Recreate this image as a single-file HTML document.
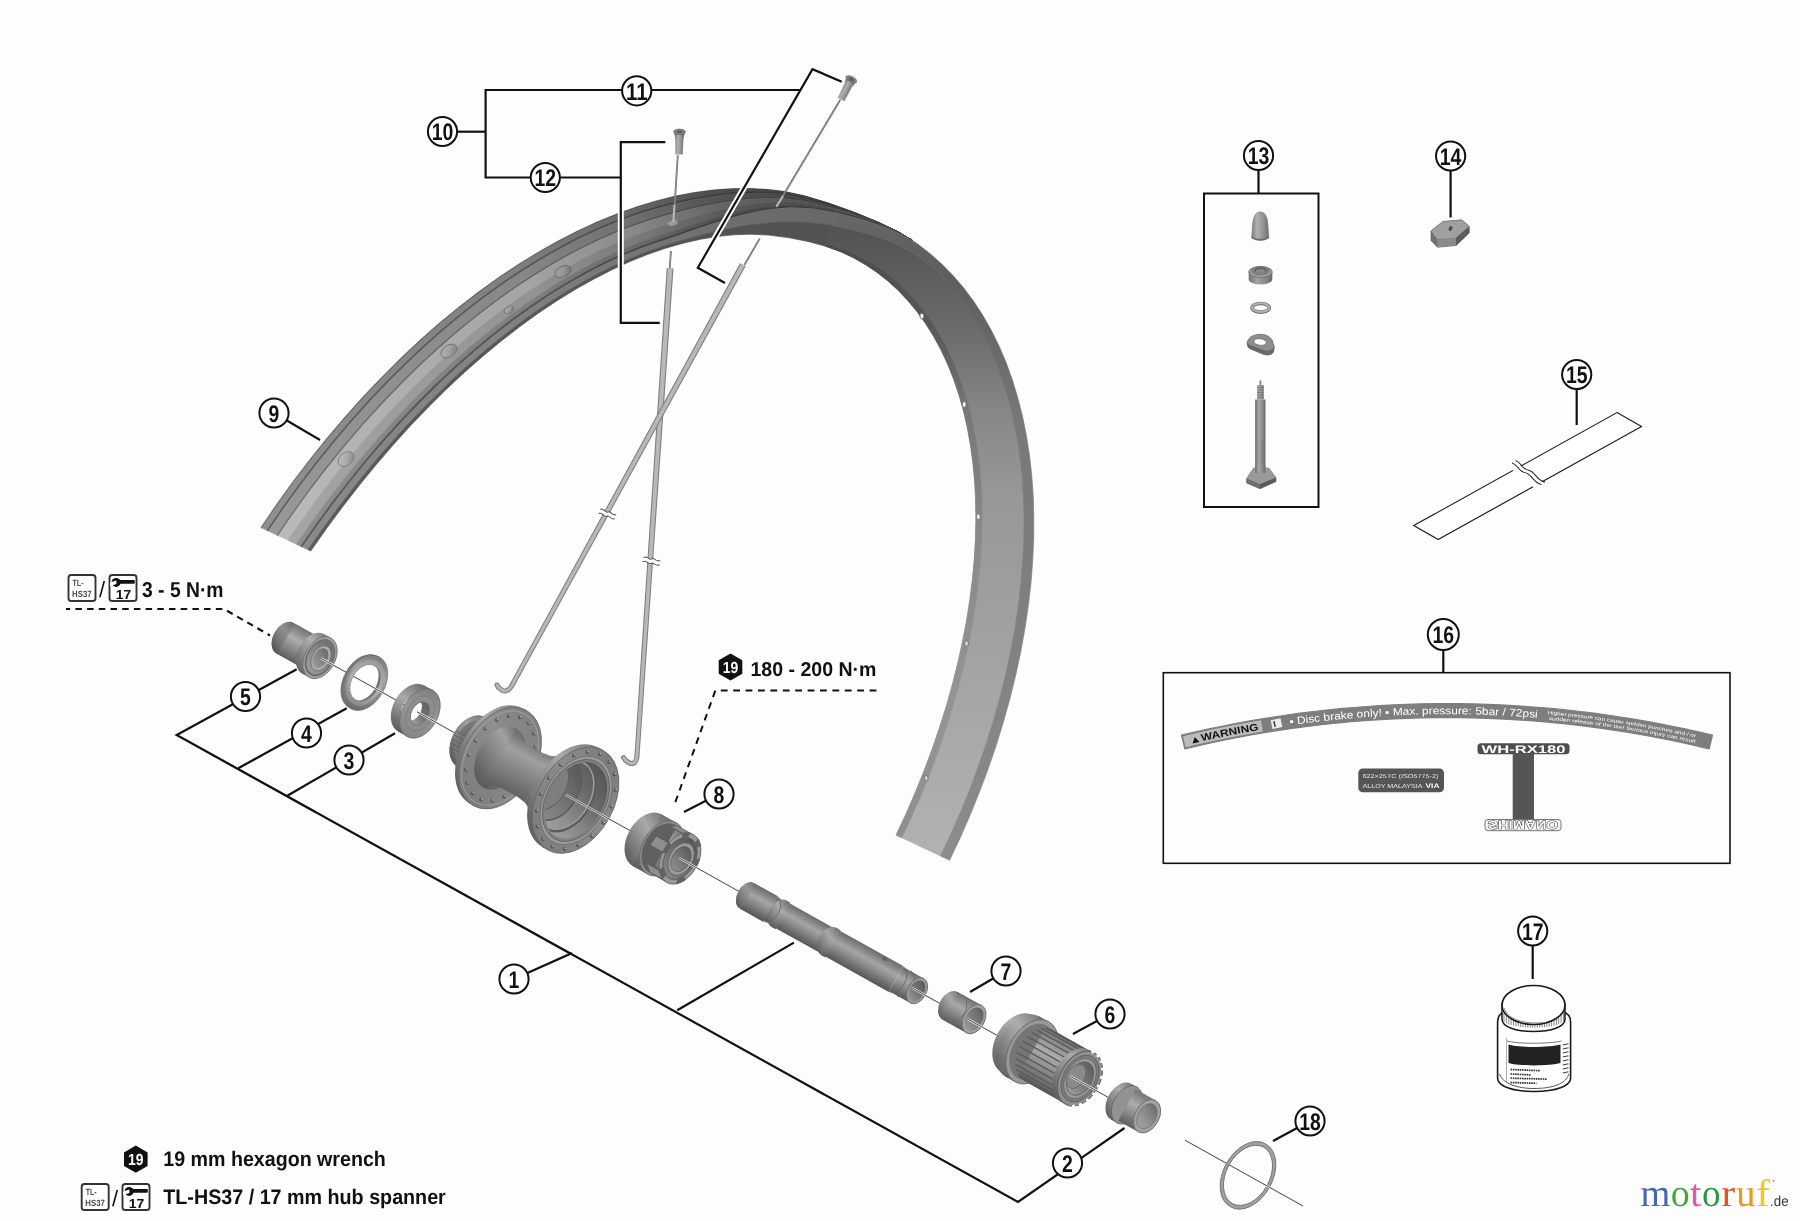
<!DOCTYPE html>
<html><head><meta charset="utf-8"><title>WH-RX180 exploded view</title>
<style>
html,body{margin:0;padding:0;background:#fff;}
body{width:1800px;height:1221px;overflow:hidden;font-family:"Liberation Sans",sans-serif;}
svg{display:block;font-family:"Liberation Sans",sans-serif;} text{text-rendering:geometricPrecision;}
</style></head><body>
<svg width="1800" height="1221" viewBox="0 0 1800 1221">
<defs>
<linearGradient id="g1" gradientUnits="userSpaceOnUse" x1="286" y1="539" x2="820" y2="200"><stop offset="0" stop-color="#6e6e6e"/><stop offset="0.28" stop-color="#676767"/><stop offset="0.54" stop-color="#616161"/><stop offset="0.73" stop-color="#505050"/><stop offset="0.855" stop-color="#3d3d3d"/><stop offset="0.97" stop-color="#333333"/><stop offset="1" stop-color="#303030"/></linearGradient>
<linearGradient id="g2" gradientUnits="userSpaceOnUse" x1="286" y1="539" x2="820" y2="200"><stop offset="0" stop-color="#909090"/><stop offset="0.28" stop-color="#878787"/><stop offset="0.54" stop-color="#7f7f7f"/><stop offset="0.73" stop-color="#696969"/><stop offset="0.855" stop-color="#4f4f4f"/><stop offset="0.97" stop-color="#424242"/><stop offset="1" stop-color="#3f3f3f"/></linearGradient>
<linearGradient id="g3" gradientUnits="userSpaceOnUse" x1="286" y1="539" x2="820" y2="200"><stop offset="0" stop-color="#5e5e5e"/><stop offset="0.28" stop-color="#585858"/><stop offset="0.54" stop-color="#535353"/><stop offset="0.73" stop-color="#454545"/><stop offset="0.855" stop-color="#343434"/><stop offset="0.97" stop-color="#2b2b2b"/><stop offset="1" stop-color="#292929"/></linearGradient>
<linearGradient id="g4" gradientUnits="userSpaceOnUse" x1="286" y1="539" x2="820" y2="200"><stop offset="0" stop-color="#989898"/><stop offset="0.28" stop-color="#8f8f8f"/><stop offset="0.54" stop-color="#878787"/><stop offset="0.73" stop-color="#6f6f6f"/><stop offset="0.855" stop-color="#545454"/><stop offset="0.97" stop-color="#464646"/><stop offset="1" stop-color="#434343"/></linearGradient>
<linearGradient id="g5" gradientUnits="userSpaceOnUse" x1="286" y1="539" x2="820" y2="200"><stop offset="0" stop-color="#707070"/><stop offset="0.28" stop-color="#696969"/><stop offset="0.54" stop-color="#636363"/><stop offset="0.73" stop-color="#525252"/><stop offset="0.855" stop-color="#3e3e3e"/><stop offset="0.97" stop-color="#343434"/><stop offset="1" stop-color="#313131"/></linearGradient>
<linearGradient id="g6" gradientUnits="userSpaceOnUse" x1="286" y1="539" x2="820" y2="200"><stop offset="0" stop-color="#bababa"/><stop offset="0.28" stop-color="#afafaf"/><stop offset="0.54" stop-color="#a5a5a5"/><stop offset="0.73" stop-color="#888888"/><stop offset="0.855" stop-color="#666666"/><stop offset="0.97" stop-color="#565656"/><stop offset="1" stop-color="#525252"/></linearGradient>
<linearGradient id="g7" gradientUnits="userSpaceOnUse" x1="286" y1="539" x2="820" y2="200"><stop offset="0" stop-color="#a6a6a6"/><stop offset="0.28" stop-color="#9c9c9c"/><stop offset="0.54" stop-color="#939393"/><stop offset="0.73" stop-color="#797979"/><stop offset="0.855" stop-color="#5b5b5b"/><stop offset="0.97" stop-color="#4c4c4c"/><stop offset="1" stop-color="#494949"/></linearGradient>
<linearGradient id="g8" gradientUnits="userSpaceOnUse" x1="286" y1="539" x2="820" y2="200"><stop offset="0" stop-color="#8e8e8e"/><stop offset="0.28" stop-color="#858585"/><stop offset="0.54" stop-color="#7e7e7e"/><stop offset="0.73" stop-color="#686868"/><stop offset="0.855" stop-color="#4e4e4e"/><stop offset="0.97" stop-color="#414141"/><stop offset="1" stop-color="#3e3e3e"/></linearGradient>
<linearGradient id="g9" gradientUnits="userSpaceOnUse" x1="286" y1="539" x2="820" y2="200"><stop offset="0" stop-color="#5c5c5c"/><stop offset="0.28" stop-color="#565656"/><stop offset="0.54" stop-color="#515151"/><stop offset="0.73" stop-color="#434343"/><stop offset="0.855" stop-color="#333333"/><stop offset="0.97" stop-color="#2a2a2a"/><stop offset="1" stop-color="#282828"/></linearGradient>
<linearGradient id="g10" gradientUnits="userSpaceOnUse" x1="339.8" y1="452.8" x2="352.2" y2="465.2"><stop offset="0" stop-color="#bcbcbc"/><stop offset="0.55" stop-color="#ababab"/><stop offset="1" stop-color="#868686"/></linearGradient>
<linearGradient id="g11" gradientUnits="userSpaceOnUse" x1="442.8" y1="345.2" x2="455.2" y2="356.8"><stop offset="0" stop-color="#b1b1b1"/><stop offset="0.55" stop-color="#a0a0a0"/><stop offset="1" stop-color="#7e7e7e"/></linearGradient>
<linearGradient id="g12" gradientUnits="userSpaceOnUse" x1="505.4" y1="306.4" x2="512.6" y2="313.2"><stop offset="0" stop-color="#ababab"/><stop offset="0.55" stop-color="#9b9b9b"/><stop offset="1" stop-color="#797979"/></linearGradient>
<linearGradient id="g13" gradientUnits="userSpaceOnUse" x1="557" y1="266.3" x2="569" y2="276.7"><stop offset="0" stop-color="#a3a3a3"/><stop offset="0.55" stop-color="#949494"/><stop offset="1" stop-color="#747474"/></linearGradient>
<linearGradient id="g14" gradientUnits="userSpaceOnUse" x1="286" y1="539" x2="820" y2="200"><stop offset="0" stop-color="#8a8a8a"/><stop offset="0.45" stop-color="#828282"/><stop offset="0.7" stop-color="#767676"/><stop offset="0.9" stop-color="#6c6c6c"/><stop offset="1" stop-color="#686868"/></linearGradient>
<linearGradient id="g15" gradientUnits="userSpaceOnUse" x1="286" y1="539" x2="820" y2="200"><stop offset="0" stop-color="#5a5a5a"/><stop offset="0.5" stop-color="#565656"/><stop offset="0.8" stop-color="#525252"/><stop offset="1" stop-color="#525252"/></linearGradient>
<linearGradient id="g16" gradientUnits="userSpaceOnUse" x1="0" y1="205" x2="0" y2="860"><stop offset="0" stop-color="#6a6a6a"/><stop offset="0.05" stop-color="#626262"/><stop offset="0.12" stop-color="#5e5e5e"/><stop offset="0.22" stop-color="#6a6a6a"/><stop offset="0.34" stop-color="#787878"/><stop offset="0.64" stop-color="#808080"/><stop offset="1" stop-color="#8c8c8c"/></linearGradient>
<linearGradient id="g17" gradientUnits="userSpaceOnUse" x1="0" y1="225" x2="0" y2="860"><stop offset="0" stop-color="#525252"/><stop offset="0.06" stop-color="#5a5a5a"/><stop offset="0.17" stop-color="#6c6c6c"/><stop offset="0.3" stop-color="#888888"/><stop offset="0.42" stop-color="#979797"/><stop offset="0.63" stop-color="#a0a0a0"/><stop offset="0.75" stop-color="#a6a6a6"/><stop offset="1" stop-color="#b2b2b2"/></linearGradient>
<linearGradient id="g18" gradientUnits="userSpaceOnUse" x1="0" y1="225" x2="0" y2="860"><stop offset="0" stop-color="#484848"/><stop offset="0.17" stop-color="#5a5a5a"/><stop offset="0.3" stop-color="#787878"/><stop offset="0.5" stop-color="#8a8a8a"/><stop offset="0.75" stop-color="#949494"/><stop offset="1" stop-color="#8e8e8e"/></linearGradient>
<linearGradient id="g19" gradientUnits="userSpaceOnUse" x1="-5" y1="0" x2="5" y2="0"><stop offset="0" stop-color="#6a6a6a"/><stop offset="0.35" stop-color="#b2b2b2"/><stop offset="0.7" stop-color="#8e8e8e"/><stop offset="1" stop-color="#5e5e5e"/></linearGradient>
<linearGradient id="g20" gradientUnits="userSpaceOnUse" x1="-5" y1="0" x2="5" y2="0"><stop offset="0" stop-color="#6a6a6a"/><stop offset="0.35" stop-color="#b2b2b2"/><stop offset="0.7" stop-color="#8e8e8e"/><stop offset="1" stop-color="#5e5e5e"/></linearGradient>
<linearGradient id="g21" gradientUnits="userSpaceOnUse" x1="307.5" y1="630.7" x2="290.5" y2="661.3"><stop offset="0" stop-color="#737373"/><stop offset="0.18" stop-color="#8f8f8f"/><stop offset="0.38" stop-color="#adadad"/><stop offset="0.6" stop-color="#939393"/><stop offset="0.85" stop-color="#717171"/><stop offset="1" stop-color="#5f5f5f"/></linearGradient>
<linearGradient id="g22" gradientUnits="userSpaceOnUse" x1="293.5" y1="622.9" x2="276.5" y2="653.5"><stop offset="0" stop-color="#656565"/><stop offset="0.18" stop-color="#7b7b7b"/><stop offset="0.38" stop-color="#8f8f8f"/><stop offset="0.6" stop-color="#7f7f7f"/><stop offset="0.85" stop-color="#636363"/><stop offset="1" stop-color="#515151"/></linearGradient>
<linearGradient id="g23" gradientUnits="userSpaceOnUse" x1="308.5" y1="631.3" x2="291.5" y2="661.8"><stop offset="0" stop-color="#737373"/><stop offset="0.18" stop-color="#8f8f8f"/><stop offset="0.38" stop-color="#adadad"/><stop offset="0.6" stop-color="#939393"/><stop offset="0.85" stop-color="#717171"/><stop offset="1" stop-color="#5f5f5f"/></linearGradient>
<linearGradient id="g24" gradientUnits="userSpaceOnUse" x1="327.5" y1="636.1" x2="305.5" y2="675.4"><stop offset="0" stop-color="#757575"/><stop offset="0.18" stop-color="#919191"/><stop offset="0.38" stop-color="#afafaf"/><stop offset="0.6" stop-color="#959595"/><stop offset="0.85" stop-color="#737373"/><stop offset="1" stop-color="#616161"/></linearGradient>
<linearGradient id="g25" gradientUnits="userSpaceOnUse" x1="328.3" y1="642.8" x2="311.7" y2="672.5"><stop offset="0" stop-color="#6c6c6c"/><stop offset="0.5" stop-color="#868686"/><stop offset="1" stop-color="#9c9c9c"/></linearGradient>
<linearGradient id="g26" gradientUnits="userSpaceOnUse" x1="324.9" y1="649" x2="315.1" y2="666.4"><stop offset="0" stop-color="#6a6a6a"/><stop offset="0.6" stop-color="#888888"/><stop offset="1" stop-color="#9a9a9a"/></linearGradient>
<linearGradient id="g27" gradientUnits="userSpaceOnUse" x1="379.4" y1="657" x2="350.6" y2="708.6"><stop offset="0" stop-color="#7a7a7a"/><stop offset="0.3" stop-color="#a2a2a2"/><stop offset="0.6" stop-color="#8c8c8c"/><stop offset="1" stop-color="#6c6c6c"/></linearGradient>
<linearGradient id="g28" gradientUnits="userSpaceOnUse" x1="376.7" y1="661.8" x2="353.3" y2="703.8"><stop offset="0" stop-color="#9a9a9a"/><stop offset="0.5" stop-color="#b0b0b0"/><stop offset="1" stop-color="#8c8c8c"/></linearGradient>
<linearGradient id="g29" gradientUnits="userSpaceOnUse" x1="427.9" y1="687.5" x2="402.1" y2="733.8"><stop offset="0" stop-color="#6f6f6f"/><stop offset="0.18" stop-color="#8b8b8b"/><stop offset="0.38" stop-color="#a9a9a9"/><stop offset="0.6" stop-color="#8f8f8f"/><stop offset="0.85" stop-color="#6d6d6d"/><stop offset="1" stop-color="#5b5b5b"/></linearGradient>
<linearGradient id="g30" gradientUnits="userSpaceOnUse" x1="425.8" y1="703" x2="414.2" y2="724"><stop offset="0" stop-color="#606060"/><stop offset="0.5" stop-color="#747474"/><stop offset="1" stop-color="#a4a4a4"/></linearGradient>
<linearGradient id="g31" gradientUnits="userSpaceOnUse" x1="432.7" y1="690.8" x2="407.3" y2="736.2"><stop offset="0" stop-color="#808080"/><stop offset="0.45" stop-color="#989898"/><stop offset="1" stop-color="#868686"/></linearGradient>
<linearGradient id="g32" gradientUnits="userSpaceOnUse" x1="496.1" y1="723.9" x2="468.9" y2="772.8"><stop offset="0" stop-color="#737373"/><stop offset="0.18" stop-color="#8f8f8f"/><stop offset="0.38" stop-color="#adadad"/><stop offset="0.6" stop-color="#939393"/><stop offset="0.85" stop-color="#717171"/><stop offset="1" stop-color="#5f5f5f"/></linearGradient>
<linearGradient id="g33" gradientUnits="userSpaceOnUse" x1="484.6" y1="717.5" x2="457.4" y2="766.4"><stop offset="0" stop-color="#6d6d6d"/><stop offset="0.18" stop-color="#878787"/><stop offset="0.38" stop-color="#9f9f9f"/><stop offset="0.6" stop-color="#8b8b8b"/><stop offset="0.85" stop-color="#6b6b6b"/><stop offset="1" stop-color="#595959"/></linearGradient>
<linearGradient id="g34" gradientUnits="userSpaceOnUse" x1="524.8" y1="709.5" x2="471.7" y2="804.7"><stop offset="0" stop-color="#6f6f6f"/><stop offset="0.18" stop-color="#8b8b8b"/><stop offset="0.38" stop-color="#a9a9a9"/><stop offset="0.6" stop-color="#8f8f8f"/><stop offset="0.85" stop-color="#6d6d6d"/><stop offset="1" stop-color="#5b5b5b"/></linearGradient>
<linearGradient id="g35" gradientUnits="userSpaceOnUse" x1="526.3" y1="710.9" x2="473.7" y2="805.3"><stop offset="0" stop-color="#7e7e7e"/><stop offset="0.4" stop-color="#8e8e8e"/><stop offset="1" stop-color="#7a7a7a"/></linearGradient>
<linearGradient id="g36" gradientUnits="userSpaceOnUse" x1="554.5" y1="742.7" x2="515.5" y2="812.6"><stop offset="0" stop-color="#5e5e5e"/><stop offset="0.12" stop-color="#707070"/><stop offset="0.32" stop-color="#a0a0a0"/><stop offset="0.5" stop-color="#8a8a8a"/><stop offset="0.75" stop-color="#6a6a6a"/><stop offset="1" stop-color="#4e4e4e"/></linearGradient>
<linearGradient id="g37" gradientUnits="userSpaceOnUse" x1="600.8" y1="749" x2="545.2" y2="848.6"><stop offset="0" stop-color="#6f6f6f"/><stop offset="0.18" stop-color="#8b8b8b"/><stop offset="0.38" stop-color="#a9a9a9"/><stop offset="0.6" stop-color="#8f8f8f"/><stop offset="0.85" stop-color="#6d6d6d"/><stop offset="1" stop-color="#5b5b5b"/></linearGradient>
<linearGradient id="g38" gradientUnits="userSpaceOnUse" x1="602.8" y1="750.2" x2="547.2" y2="849.7"><stop offset="0" stop-color="#7a7a7a"/><stop offset="0.4" stop-color="#8c8c8c"/><stop offset="1" stop-color="#7c7c7c"/></linearGradient>
<linearGradient id="g39" gradientUnits="userSpaceOnUse" x1="596" y1="764.7" x2="556" y2="836.3"><stop offset="0" stop-color="#545454"/><stop offset="0.35" stop-color="#6a6a6a"/><stop offset="0.7" stop-color="#8c8c8c"/><stop offset="1" stop-color="#a0a0a0"/></linearGradient>
<linearGradient id="g40" gradientUnits="userSpaceOnUse" x1="572.1" y1="760.5" x2="539.9" y2="818.2"><stop offset="0" stop-color="#585858"/><stop offset="0.5" stop-color="#747474"/><stop offset="1" stop-color="#8e8e8e"/></linearGradient>
<linearGradient id="g41" gradientUnits="userSpaceOnUse" x1="668.9" y1="818.5" x2="640.1" y2="870"><stop offset="0" stop-color="#6f6f6f"/><stop offset="0.18" stop-color="#8b8b8b"/><stop offset="0.38" stop-color="#a9a9a9"/><stop offset="0.6" stop-color="#8f8f8f"/><stop offset="0.85" stop-color="#6d6d6d"/><stop offset="1" stop-color="#5b5b5b"/></linearGradient>
<linearGradient id="g42" gradientUnits="userSpaceOnUse" x1="685.4" y1="830" x2="658.6" y2="878.1"><stop offset="0" stop-color="#737373"/><stop offset="0.18" stop-color="#8f8f8f"/><stop offset="0.38" stop-color="#adadad"/><stop offset="0.6" stop-color="#939393"/><stop offset="0.85" stop-color="#717171"/><stop offset="1" stop-color="#5f5f5f"/></linearGradient>
<linearGradient id="g43" gradientUnits="userSpaceOnUse" x1="690.7" y1="839.3" x2="669.3" y2="877.7"><stop offset="0" stop-color="#565656"/><stop offset="0.5" stop-color="#6c6c6c"/><stop offset="1" stop-color="#868686"/></linearGradient>
<linearGradient id="g44" gradientUnits="userSpaceOnUse" x1="687.3" y1="847.7" x2="674.7" y2="870.4"><stop offset="0" stop-color="#5a5a5a"/><stop offset="0.5" stop-color="#747474"/><stop offset="1" stop-color="#909090"/></linearGradient>
<linearGradient id="g45" gradientUnits="userSpaceOnUse" x1="765.6" y1="889.6" x2="751.4" y2="915"><stop offset="0" stop-color="#6b6b6b"/><stop offset="0.18" stop-color="#878787"/><stop offset="0.38" stop-color="#a5a5a5"/><stop offset="0.6" stop-color="#8b8b8b"/><stop offset="0.85" stop-color="#696969"/><stop offset="1" stop-color="#575757"/></linearGradient>
<linearGradient id="g46" gradientUnits="userSpaceOnUse" x1="754.1" y1="883.2" x2="739.9" y2="908.5"><stop offset="0" stop-color="#696969"/><stop offset="0.18" stop-color="#818181"/><stop offset="0.38" stop-color="#979797"/><stop offset="0.6" stop-color="#858585"/><stop offset="0.85" stop-color="#676767"/><stop offset="1" stop-color="#555555"/></linearGradient>
<linearGradient id="g47" gradientUnits="userSpaceOnUse" x1="765.1" y1="889.3" x2="750.9" y2="914.7"><stop offset="0" stop-color="#6b6b6b"/><stop offset="0.18" stop-color="#878787"/><stop offset="0.38" stop-color="#a5a5a5"/><stop offset="0.6" stop-color="#8b8b8b"/><stop offset="0.85" stop-color="#696969"/><stop offset="1" stop-color="#575757"/></linearGradient>
<linearGradient id="g48" gradientUnits="userSpaceOnUse" x1="781" y1="899.6" x2="768" y2="922.8"><stop offset="0" stop-color="#676767"/><stop offset="0.18" stop-color="#838383"/><stop offset="0.38" stop-color="#a1a1a1"/><stop offset="0.6" stop-color="#878787"/><stop offset="0.85" stop-color="#656565"/><stop offset="1" stop-color="#535353"/></linearGradient>
<linearGradient id="g49" gradientUnits="userSpaceOnUse" x1="788.4" y1="901.6" x2="773.6" y2="928.1"><stop offset="0" stop-color="#6f6f6f"/><stop offset="0.18" stop-color="#8b8b8b"/><stop offset="0.38" stop-color="#a9a9a9"/><stop offset="0.6" stop-color="#8f8f8f"/><stop offset="0.85" stop-color="#6d6d6d"/><stop offset="1" stop-color="#5b5b5b"/></linearGradient>
<linearGradient id="g50" gradientUnits="userSpaceOnUse" x1="812.9" y1="916.4" x2="799.1" y2="941.2"><stop offset="0" stop-color="#6b6b6b"/><stop offset="0.18" stop-color="#878787"/><stop offset="0.38" stop-color="#a5a5a5"/><stop offset="0.6" stop-color="#8b8b8b"/><stop offset="0.85" stop-color="#696969"/><stop offset="1" stop-color="#575757"/></linearGradient>
<linearGradient id="g51" gradientUnits="userSpaceOnUse" x1="838.6" y1="929.1" x2="823.4" y2="956.4"><stop offset="0" stop-color="#6f6f6f"/><stop offset="0.18" stop-color="#8b8b8b"/><stop offset="0.38" stop-color="#a9a9a9"/><stop offset="0.6" stop-color="#8f8f8f"/><stop offset="0.85" stop-color="#6d6d6d"/><stop offset="1" stop-color="#5b5b5b"/></linearGradient>
<linearGradient id="g52" gradientUnits="userSpaceOnUse" x1="871.7" y1="948.5" x2="857.3" y2="974.3"><stop offset="0" stop-color="#6b6b6b"/><stop offset="0.18" stop-color="#878787"/><stop offset="0.38" stop-color="#a5a5a5"/><stop offset="0.6" stop-color="#8b8b8b"/><stop offset="0.85" stop-color="#696969"/><stop offset="1" stop-color="#575757"/></linearGradient>
<linearGradient id="g53" gradientUnits="userSpaceOnUse" x1="913.3" y1="972.6" x2="899.7" y2="997.1"><stop offset="0" stop-color="#6d6d6d"/><stop offset="0.18" stop-color="#898989"/><stop offset="0.38" stop-color="#a7a7a7"/><stop offset="0.6" stop-color="#8d8d8d"/><stop offset="0.85" stop-color="#6b6b6b"/><stop offset="1" stop-color="#595959"/></linearGradient>
<linearGradient id="g54" gradientUnits="userSpaceOnUse" x1="922.4" y1="981.1" x2="911.6" y2="1000.3"><stop offset="0" stop-color="#5a5a5a"/><stop offset="0.5" stop-color="#747474"/><stop offset="1" stop-color="#949494"/></linearGradient>
<linearGradient id="g55" gradientUnits="userSpaceOnUse" x1="970.7" y1="1002.6" x2="955.3" y2="1030.2"><stop offset="0" stop-color="#6f6f6f"/><stop offset="0.18" stop-color="#8b8b8b"/><stop offset="0.38" stop-color="#a9a9a9"/><stop offset="0.6" stop-color="#8f8f8f"/><stop offset="0.85" stop-color="#6d6d6d"/><stop offset="1" stop-color="#5b5b5b"/></linearGradient>
<linearGradient id="g56" gradientUnits="userSpaceOnUse" x1="980.8" y1="1012.6" x2="969.2" y2="1033.5"><stop offset="0" stop-color="#606060"/><stop offset="0.5" stop-color="#7c7c7c"/><stop offset="1" stop-color="#9a9a9a"/></linearGradient>
<linearGradient id="g57" gradientUnits="userSpaceOnUse" x1="1035.3" y1="1019.5" x2="1003.7" y2="1076.3"><stop offset="0" stop-color="#777777"/><stop offset="0.18" stop-color="#939393"/><stop offset="0.38" stop-color="#b1b1b1"/><stop offset="0.6" stop-color="#979797"/><stop offset="0.85" stop-color="#757575"/><stop offset="1" stop-color="#636363"/></linearGradient>
<linearGradient id="g58" gradientUnits="userSpaceOnUse" x1="1043.8" y1="1021.9" x2="1010.2" y2="1082.2"><stop offset="0" stop-color="#737373"/><stop offset="0.18" stop-color="#8f8f8f"/><stop offset="0.38" stop-color="#adadad"/><stop offset="0.6" stop-color="#939393"/><stop offset="0.85" stop-color="#717171"/><stop offset="1" stop-color="#5f5f5f"/></linearGradient>
<linearGradient id="g59" gradientUnits="userSpaceOnUse" x1="1068.4" y1="1042.5" x2="1040.6" y2="1092.3"><stop offset="0" stop-color="#737373"/><stop offset="0.18" stop-color="#8f8f8f"/><stop offset="0.38" stop-color="#adadad"/><stop offset="0.6" stop-color="#939393"/><stop offset="0.85" stop-color="#717171"/><stop offset="1" stop-color="#5f5f5f"/></linearGradient>
<linearGradient id="g60" gradientUnits="userSpaceOnUse" x1="1091.9" y1="1054.5" x2="1063.1" y2="1106"><stop offset="0" stop-color="#717171"/><stop offset="0.18" stop-color="#8d8d8d"/><stop offset="0.38" stop-color="#ababab"/><stop offset="0.6" stop-color="#919191"/><stop offset="0.85" stop-color="#6f6f6f"/><stop offset="1" stop-color="#5d5d5d"/></linearGradient>
<linearGradient id="g61" gradientUnits="userSpaceOnUse" x1="1088.8" y1="1065.9" x2="1071.2" y2="1097.3"><stop offset="0" stop-color="#5c5c5c"/><stop offset="0.5" stop-color="#7a7a7a"/><stop offset="1" stop-color="#a0a0a0"/></linearGradient>
<linearGradient id="g62" gradientUnits="userSpaceOnUse" x1="1137" y1="1089.9" x2="1117" y2="1125.7"><stop offset="0" stop-color="#717171"/><stop offset="0.18" stop-color="#8d8d8d"/><stop offset="0.38" stop-color="#ababab"/><stop offset="0.6" stop-color="#919191"/><stop offset="0.85" stop-color="#6f6f6f"/><stop offset="1" stop-color="#5d5d5d"/></linearGradient>
<linearGradient id="g63" gradientUnits="userSpaceOnUse" x1="1148.8" y1="1099.4" x2="1131.2" y2="1130.8"><stop offset="0" stop-color="#737373"/><stop offset="0.18" stop-color="#8f8f8f"/><stop offset="0.38" stop-color="#adadad"/><stop offset="0.6" stop-color="#939393"/><stop offset="0.85" stop-color="#717171"/><stop offset="1" stop-color="#5f5f5f"/></linearGradient>
<linearGradient id="g64" gradientUnits="userSpaceOnUse" x1="1156.3" y1="1109.3" x2="1143.7" y2="1132"><stop offset="0" stop-color="#6a6a6a"/><stop offset="0.5" stop-color="#8c8c8c"/><stop offset="1" stop-color="#a4a4a4"/></linearGradient>
<linearGradient id="g65" gradientUnits="userSpaceOnUse" x1="1251.5" y1="0" x2="1269" y2="0"><stop offset="0" stop-color="#7a7a7a"/><stop offset="0.3" stop-color="#b0b0b0"/><stop offset="0.6" stop-color="#9a9a9a"/><stop offset="1" stop-color="#6e6e6e"/></linearGradient>
<linearGradient id="g66" gradientUnits="userSpaceOnUse" x1="1248.5" y1="0" x2="1272.5" y2="0"><stop offset="0" stop-color="#6e6e6e"/><stop offset="0.35" stop-color="#a4a4a4"/><stop offset="0.7" stop-color="#8a8a8a"/><stop offset="1" stop-color="#666"/></linearGradient>
<linearGradient id="g67" gradientUnits="userSpaceOnUse" x1="1255" y1="0" x2="1266" y2="0"><stop offset="0" stop-color="#6a6a6a"/><stop offset="0.35" stop-color="#a6a6a6"/><stop offset="0.7" stop-color="#8a8a8a"/><stop offset="1" stop-color="#626262"/></linearGradient>
</defs>
<rect width="1800" height="1221" fill="#fdfdfd"/>
<g opacity="0.999">
<g id="rimL">
<path d="M260.9 527.5L276.7 504.2L293.1 481.4L310 459.3L327.3 437.7L345.1 416.8L363.2 396.6L381.7 377.2L400.4 358.5L419.5 340.6L438.8 323.6L458.3 307.5L478 292.3L497.8 278.1L517.7 264.8L537.7 252.5L557.6 241.2L577.6 231L597.4 221.8L617.2 213.8L636.9 206.8L656.3 200.9L675.6 196.1L694.5 192.5L713.2 190L731.6 188.7L749.6 188.5L767.3 189.4L784.5 191.5L804.4 195.8L828.6 203.1L854 212.2L878 222.1L898 231.7L912.4 240.4L912.4 240.4L898 231.7L877.9 222.2L854 212.4L828.6 203.4L804.4 196.2L784.5 192L767.3 190L749.7 189.2L731.7 189.6L713.3 191L694.7 193.6L675.8 197.3L656.6 202.1L637.2 207.9L617.6 214.9L597.9 223L578.1 232.1L558.2 242.4L538.3 253.6L518.4 265.9L498.6 279.1L478.8 293.4L459.2 308.5L439.7 324.6L420.5 341.6L401.4 359.4L382.7 378L364.3 397.5L346.2 417.6L328.5 438.5L311.2 460L294.3 482.1L278 504.8L262.1 528.1Z" fill="url(#g1)" stroke="url(#g1)" stroke-width="0.7" />
<path d="M262.1 528.1L278 504.8L294.3 482.1L311.2 460L328.5 438.5L346.2 417.6L364.3 397.5L382.7 378L401.4 359.4L420.5 341.6L439.7 324.6L459.2 308.5L478.8 293.4L498.6 279.1L518.4 265.9L538.3 253.6L558.2 242.4L578.1 232.1L597.9 223L617.6 214.9L637.2 207.9L656.6 202.1L675.8 197.3L694.7 193.6L713.3 191L731.7 189.6L749.7 189.2L767.3 190L784.5 192L804.4 196.2L828.6 203.4L854 212.4L877.9 222.2L898 231.7L912.4 240.4L912.4 240.4L898 231.8L877.9 222.4L853.9 212.9L828.6 204.3L804.6 197.7L784.6 193.9L767.3 192.4L749.7 192.1L731.8 192.9L713.7 194.8L695.3 197.8L676.6 201.7L657.7 206.6L638.5 212.4L619.2 219.4L599.7 227.4L580.1 236.5L560.5 246.7L540.8 257.9L521.1 270.1L501.5 283.2L481.9 297.4L462.5 312.5L443.2 328.4L424.1 345.3L405.3 363L386.7 381.4L368.4 400.7L350.5 420.7L332.9 441.4L315.7 462.8L299 484.7L282.7 507.3L266.9 530.3Z" fill="url(#g2)" stroke="url(#g2)" stroke-width="0.7" />
<path d="M266.9 530.3L282.7 507.3L299 484.7L315.7 462.8L332.9 441.4L350.5 420.7L368.4 400.7L386.7 381.4L405.3 363L424.1 345.3L443.2 328.4L462.5 312.5L481.9 297.4L501.5 283.2L521.1 270.1L540.8 257.9L560.5 246.7L580.1 236.5L599.7 227.4L619.2 219.4L638.5 212.4L657.7 206.6L676.6 201.7L695.3 197.8L713.7 194.8L731.8 192.9L749.7 192.1L767.3 192.4L784.6 193.9L804.6 197.7L828.6 204.3L853.9 212.9L877.9 222.4L898 231.8L912.4 240.4L912.4 240.4L898 231.8L877.9 222.5L853.9 213.1L828.6 204.7L804.6 198.2L784.6 194.6L767.3 193.3L749.7 193.1L731.9 194.1L713.8 196.2L695.5 199.2L676.9 203.2L658.1 208.2L639 214L619.7 221L600.3 229L580.8 238.1L561.3 248.2L541.7 259.4L522.1 271.5L502.5 284.7L483 298.8L463.7 313.8L444.4 329.7L425.4 346.5L406.6 364.2L388.1 382.6L369.9 401.8L351.9 421.8L334.4 442.4L317.3 463.7L300.6 485.6L284.3 508.1L268.6 531.1Z" fill="url(#g3)" stroke="url(#g3)" stroke-width="0.7" />
<path d="M268.6 531.1L284.3 508.1L300.6 485.6L317.3 463.7L334.4 442.4L351.9 421.8L369.9 401.8L388.1 382.6L406.6 364.2L425.4 346.5L444.4 329.7L463.7 313.8L483 298.8L502.5 284.7L522.1 271.5L541.7 259.4L561.3 248.2L580.8 238.1L600.3 229L619.7 221L639 214L658.1 208.2L676.9 203.2L695.5 199.2L713.8 196.2L731.9 194.1L749.7 193.1L767.3 193.3L784.6 194.6L804.6 198.2L828.6 204.7L853.9 213.1L877.9 222.5L898 231.8L912.4 240.4L912.4 240.4L897.4 231.7L876.4 222.4L851.6 213.3L825.7 205.5L801.6 200L781.7 197.7L763.6 197.4L745.5 198.5L727.4 200.6L709 203.8L690.5 207.8L671.7 212.6L652.6 218.2L633.3 224.6L613.8 232.2L594.2 240.9L574.5 250.8L554.7 261.7L534.9 273.6L515.1 286.6L495.4 300.6L475.7 315.6L456.2 331.5L436.9 348.3L417.8 366L398.9 384.6L380.3 404L362 424.2L344.2 445L326.7 466.6L309.6 488.8L293 511.7L276.9 535.1Z" fill="url(#g4)" stroke="url(#g4)" stroke-width="0.7" />
<path d="M276.9 535.1L293 511.7L309.6 488.8L326.7 466.6L344.2 445L362 424.2L380.3 404L398.9 384.6L417.8 366L436.9 348.3L456.2 331.5L475.7 315.6L495.4 300.6L515.1 286.6L534.9 273.6L554.7 261.7L574.5 250.8L594.2 240.9L613.8 232.2L633.3 224.6L652.6 218.2L671.7 212.6L690.5 207.8L709 203.8L727.4 200.6L745.5 198.5L763.6 197.4L781.7 197.7L801.6 200L825.7 205.5L851.6 213.3L876.4 222.4L897.4 231.7L912.4 240.4L912.4 240.4L897.4 231.7L876.4 222.4L851.6 213.4L825.7 205.8L801.6 200.4L781.7 198.3L763.6 198.2L745.5 199.4L727.4 201.7L709.2 204.9L690.7 209.1L671.9 214L652.9 219.5L633.7 226L614.3 233.6L594.8 242.3L575.1 252.1L555.4 263L535.7 274.9L516 287.8L496.3 301.8L476.7 316.8L457.3 332.6L438 349.4L418.9 367.1L400.1 385.7L381.6 405L363.3 425.1L345.5 445.9L328 467.5L311 489.6L294.4 512.4L278.4 535.7Z" fill="url(#g5)" stroke="url(#g5)" stroke-width="0.7" />
<path d="M278.4 535.7L294.4 512.4L311 489.6L328 467.5L345.5 445.9L363.3 425.1L381.6 405L400.1 385.7L418.9 367.1L438 349.4L457.3 332.6L476.7 316.8L496.3 301.8L516 287.8L535.7 274.9L555.4 263L575.1 252.1L594.8 242.3L614.3 233.6L633.7 226L652.9 219.5L671.9 214L690.7 209.1L709.2 204.9L727.4 201.7L745.5 199.4L763.6 198.2L781.7 198.3L801.6 200.4L825.7 205.8L851.6 213.4L876.4 222.4L897.4 231.7L912.4 240.4L912.4 240.4L897.4 231.8L876.3 223L851.5 214.6L825.9 207.7L802 203.4L781.9 202.2L763.6 203.1L745.6 205.2L727.9 208.5L710 212.6L691.9 217.5L673.7 222.8L655.2 228.5L636.5 234.9L617.6 242.5L598.6 251.1L579.4 260.8L560.1 271.5L540.8 283.3L521.6 296.1L502.3 309.9L483.1 324.6L464.1 340.3L445.2 356.8L426.5 374.3L408 392.5L389.8 411.6L371.8 431.4L354.3 451.9L337 473.1L320.2 494.9L303.9 517.3L288 540.2Z" fill="url(#g6)" stroke="url(#g6)" stroke-width="0.7" />
<path d="M288 540.2L303.9 517.3L320.2 494.9L337 473.1L354.3 451.9L371.8 431.4L389.8 411.6L408 392.5L426.5 374.3L445.2 356.8L464.1 340.3L483.1 324.6L502.3 309.9L521.6 296.1L540.8 283.3L560.1 271.5L579.4 260.8L598.6 251.1L617.6 242.5L636.5 234.9L655.2 228.5L673.7 222.8L691.9 217.5L710 212.6L727.9 208.5L745.6 205.2L763.6 203.1L781.9 202.2L802 203.4L825.9 207.7L851.5 214.6L876.3 223L897.4 231.8L912.4 240.4L912.4 240.4L897.4 232L876.2 223.4L851.4 215.5L826 209.4L802.3 205.9L782.2 205.5L763.7 207.2L745.7 210.3L728.2 214.4L710.7 219.3L693 224.7L675.2 230.5L657.2 236.3L638.9 242.7L620.4 250.2L601.8 258.8L583 268.4L564.2 279L545.3 290.7L526.4 303.3L507.5 316.9L488.7 331.5L470 346.9L451.4 363.3L433 380.5L414.8 398.5L396.9 417.3L379.2 436.8L361.9 457L344.9 477.9L328.3 499.4L312.1 521.5L296.3 544.2Z" fill="url(#g7)" stroke="url(#g7)" stroke-width="0.7" />
<path d="M296.3 544.2L312.1 521.5L328.3 499.4L344.9 477.9L361.9 457L379.2 436.8L396.9 417.3L414.8 398.5L433 380.5L451.4 363.3L470 346.9L488.7 331.5L507.5 316.9L526.4 303.3L545.3 290.7L564.2 279L583 268.4L601.8 258.8L620.4 250.2L638.9 242.7L657.2 236.3L675.2 230.5L693 224.7L710.7 219.3L728.2 214.4L745.7 210.3L763.7 207.2L782.2 205.5L802.3 205.9L826 209.4L851.4 215.5L876.2 223.4L897.4 232L912.4 240.4L912.4 240.4L897.3 232L876.1 223.6L851.4 216L826 210.3L802.4 207.2L782.3 207.2L763.8 209.4L745.8 212.9L728.4 217.4L711 222.7L693.6 228.5L676 234.5L658.2 240.4L640.2 246.8L621.9 254.3L603.5 262.8L585 272.3L566.3 282.9L547.6 294.5L528.9 307.1L510.2 320.6L491.6 335.1L473.1 350.4L454.7 366.6L436.4 383.7L418.4 401.6L400.6 420.2L383.1 439.6L365.9 459.7L349 480.5L332.5 501.8L316.4 523.8L300.7 546.2Z" fill="url(#g8)" stroke="url(#g8)" stroke-width="0.7" />
<path d="M300.7 546.2L316.4 523.8L332.5 501.8L349 480.5L365.9 459.7L383.1 439.6L400.6 420.2L418.4 401.6L436.4 383.7L454.7 366.6L473.1 350.4L491.6 335.1L510.2 320.6L528.9 307.1L547.6 294.5L566.3 282.9L585 272.3L603.5 262.8L621.9 254.3L640.2 246.8L658.2 240.4L676 234.5L693.6 228.5L711 222.7L728.4 217.4L745.8 212.9L763.8 209.4L782.3 207.2L802.4 207.2L826 210.3L851.4 216L876.1 223.6L897.3 232L912.4 240.4L912.4 240.4L897.3 232.1L876.1 223.7L851.4 216.2L826.1 210.6L802.5 207.7L782.4 207.9L763.8 210.3L745.8 214L728.5 218.7L711.2 224.2L693.8 230.1L676.4 236.2L658.7 242.2L640.7 248.6L622.5 256L604.2 264.5L585.8 274L567.2 284.6L548.6 296.1L530 308.7L511.4 322.2L492.9 336.6L474.4 351.9L456.1 368.1L437.9 385.1L419.9 402.9L402.2 421.5L384.7 440.9L367.6 460.9L350.7 481.6L334.3 502.9L318.2 524.7L302.6 547.1Z" fill="url(#g9)" stroke="url(#g9)" stroke-width="0.7" />
<ellipse cx="346" cy="459" rx="8.8" ry="6.2" transform="rotate(-40 346 459)" fill="url(#g10)" stroke="#7c7c7c" stroke-width="0.9"/>
<ellipse cx="449" cy="351" rx="8.8" ry="5.8" transform="rotate(-33 449 351)" fill="url(#g11)" stroke="#747474" stroke-width="0.9"/>
<ellipse cx="509" cy="309.8" rx="5.2" ry="3.4" transform="rotate(-30 509 309.8)" fill="url(#g12)" stroke="#717171" stroke-width="0.9"/>
<ellipse cx="563" cy="271.5" rx="8.6" ry="5.2" transform="rotate(-27 563 271.5)" fill="url(#g13)" stroke="#6c6c6c" stroke-width="0.9"/>
</g>
<g id="rimR">
<path d="M302.6 547.1L318.5 524.4L334.8 502.2L351.5 480.6L368.6 459.6L386.1 439.4L403.8 419.8L421.9 401L440.1 383L458.6 365.8L477.2 349.5L496 334.1L514.8 319.6L533.7 306.1L552.6 293.6L571.5 282.1L590.3 271.6L609 262.2L627.6 253.8L646 246.6L664.1 240.4L682 234.2L699.7 228L717.3 222.2L734.9 216.9L752.5 212.4L771.2 209.2L790.2 207.5L812.3 208.6L837.2 212.8L832.8 225.6L810.4 222.7L789.3 221.9L769.8 222.8L751.2 224.7L734.2 227.6L717.3 231.2L700.2 235.4L682.8 240.2L665.2 245.6L647.3 251.8L629.2 259L610.9 267.3L592.5 276.7L574 287.1L555.4 298.5L536.7 310.9L518.1 324.3L499.5 338.7L481 354L462.6 370.1L444.4 387.2L426.3 405L408.5 423.6L390.9 443L373.6 463.1L356.7 483.8L340.1 505.2L323.9 527.2L308.1 549.7Z" fill="url(#g14)" stroke="url(#g14)" stroke-width="0.7" />
<path d="M308.1 549.7L323.9 527.2L340.1 505.2L356.7 483.8L373.6 463.1L390.9 443L408.5 423.6L426.3 405L444.4 387.2L462.6 370.1L481 354L499.5 338.7L518.1 324.3L536.7 310.9L555.4 298.5L574 287.1L592.5 276.7L610.9 267.3L629.2 259L647.3 251.8L665.2 245.6L682.8 240.2L700.2 235.4L717.3 231.2L734.2 227.6L751.2 224.7L769.8 222.8L789.3 221.9L810.4 222.7L832.8 225.6L825.8 246.3L807.8 241.4L788.2 237.6L768.5 235.1L750.1 234.2L733.8 234.8L717.3 236.5L700.4 239.3L683.2 243.2L665.7 248.2L648 254.3L630 261.5L611.9 269.8L593.6 279.2L575.2 289.5L556.7 300.9L538.2 313.3L519.7 326.7L501.3 341L482.9 356.2L464.6 372.3L446.4 389.2L428.5 407L410.7 425.5L393.3 444.8L376.1 464.8L359.2 485.4L342.7 506.7L326.5 528.6L310.8 551Z" fill="url(#g15)" stroke="url(#g15)" stroke-width="0.7" />
<path d="M832.8 225.6L855.2 230.2L876.4 236.2L894.7 243L908.9 250.4L922.1 259.1L934.4 269L945.6 280.1L955.9 292.3L965.6 305.3L974.5 319.1L982.8 333.7L990.3 349.1L997.1 365.3L1003.2 382.2L1008.5 399.7L1013 417.9L1016.8 436.7L1019.8 456L1022 475.9L1023.4 496.3L1024 517.2L1023.8 538.5L1022.8 560.1L1021 582.1L1018.5 604.4L1015.1 626.9L1011 649.6L1006.1 672.5L1000.4 695.5L994 718.6L986.8 741.7L978.9 764.8L970.4 787.8L961.1 810.7L951.1 833.5L940.5 856L896.1 835.1L906 814L915.3 792.6L924 771.1L932.1 749.5L939.5 727.9L946.3 706.4L952.4 684.8L957.8 663.3L962.5 642L966.6 620.8L969.9 599.9L972.5 579.1L974.4 558.7L975.5 538.6L976 518.9L975.7 499.5L974.7 480.7L972.9 462.2L970.4 444.3L967.3 427L963.4 410.2L958.8 394L953.5 378.5L947.5 363.6L940.9 349.5L933.6 336.1L925.6 323.4L917 311.5L907.8 300.4L898 290.1L887.7 280.7L876.7 272.1L865.3 264.4L853.3 257.6L840.8 251.7L825.8 246.3Z" fill="url(#g17)" stroke="url(#g17)" stroke-width="0.7" />
<path d="M826.3 244.7L842.1 249.7L855.7 255.4L868.6 262L880.6 269.5L892 278L902.7 287.4L912.6 297.8L921.9 309.1L930.7 321.1L938.7 333.9L946.2 347.5L952.9 361.8L959 376.8L964.4 392.5L969.1 408.9L973 425.8L976.3 443.4L978.8 461.4L980.6 480.1L981.7 499.1L982 518.7L981.6 538.6L980.5 558.9L978.6 579.5L976 600.4L972.7 621.6L968.7 643L963.9 664.5L958.5 686.2L952.3 707.9L945.5 729.7L938 751.5L929.9 773.2L921.1 794.9L911.7 816.4L901.7 837.8L896.1 835.1L906 814L915.3 792.6L924 771.1L932.1 749.5L939.5 727.9L946.3 706.4L952.4 684.8L957.8 663.3L962.5 642L966.6 620.8L969.9 599.9L972.5 579.1L974.4 558.7L975.5 538.6L976 518.9L975.7 499.5L974.7 480.7L972.9 462.2L970.4 444.3L967.3 427L963.4 410.2L958.8 394L953.5 378.5L947.5 363.6L940.9 349.5L933.6 336.1L925.6 323.4L917 311.5L907.8 300.4L898 290.1L887.7 280.7L876.7 272.1L865.3 264.4L853.3 257.6L840.8 251.7L825.8 246.3Z" fill="url(#g18)" stroke="url(#g18)" stroke-width="0.7" />
<path d="M837.2 212.8L862.5 219.4L886.1 227.3L904.7 235.7L918 244.3L930.4 253.9L942.2 264.5L953.4 276L963.9 288.3L973.8 301.6L982.9 315.6L991.4 330.5L999.1 346.2L1006.1 362.6L1012.3 379.7L1017.7 397.6L1022.4 416L1026.3 435.1L1029.4 454.8L1031.7 475L1033.2 495.7L1033.8 516.9L1033.7 538.4L1032.7 560.4L1031 582.7L1028.4 605.3L1025 628.1L1020.9 651.2L1015.9 674.4L1010.2 697.7L1003.7 721.1L996.5 744.5L988.5 767.9L979.8 791.2L970.4 814.4L960.4 837.5L949.6 860.3L940.5 856L951.1 833.5L961.1 810.7L970.4 787.8L978.9 764.8L986.8 741.7L994 718.6L1000.4 695.5L1006.1 672.5L1011 649.6L1015.1 626.9L1018.5 604.4L1021 582.1L1022.8 560.1L1023.8 538.5L1024 517.2L1023.4 496.3L1022 475.9L1019.8 456L1016.8 436.7L1013 417.9L1008.5 399.7L1003.2 382.2L997.1 365.3L990.3 349.1L982.8 333.7L974.5 319.1L965.6 305.3L955.9 292.3L945.6 280.1L934.4 269L922.1 259.1L908.9 250.4L894.7 243L876.4 236.2L855.2 230.2L832.8 225.6Z" fill="url(#g16)" stroke="url(#g16)" stroke-width="0.7" />
<ellipse cx="921.9" cy="316.1" rx="2" ry="2.9" fill="#f2f2f2" stroke="#6e6e6e" stroke-width="0.9"/>
<ellipse cx="964.2" cy="404.4" rx="2" ry="2.9" fill="#f2f2f2" stroke="#6e6e6e" stroke-width="0.9"/>
<ellipse cx="978.3" cy="516.7" rx="2" ry="2.9" fill="#ececec" stroke="#6e6e6e" stroke-width="0.9"/>
<ellipse cx="966.5" cy="643.5" rx="2" ry="2.9" fill="#d0d0d0" stroke="#6e6e6e" stroke-width="0.9"/>
<ellipse cx="926.2" cy="778.2" rx="2" ry="2.9" fill="#cacaca" stroke="#6e6e6e" stroke-width="0.9"/>
</g>
<path d="M636.9 757 Q636 764.5 630.5 763.5 L625.5 760.5 L623.6 757.6" fill="none" stroke="#7c7c7c" stroke-width="5.0" stroke-linecap="round" stroke-linejoin="round"/>
<path d="M636.9 757 Q636 764.5 630.5 763.5 L625.5 760.5 L623.6 757.6" fill="none" stroke="#b6b6b6" stroke-width="3.0" stroke-linecap="round" stroke-linejoin="round"/>
<polygon points="666.7,268.2 634.4,756.8 639.4,757.2 673.5,268.6" fill="#7e7e7e"/>
<polygon points="667.8,268.2 635.4,756.9 638.4,757.1 672.4,268.6" fill="#b8b8b8"/>
<path d="M511.6 686 Q507.5 692.5 502.5 690.5 L498.6 687.8 L497 685" fill="none" stroke="#7c7c7c" stroke-width="5.0" stroke-linecap="round" stroke-linejoin="round"/>
<path d="M511.6 686 Q507.5 692.5 502.5 690.5 L498.6 687.8 L497 685" fill="none" stroke="#b6b6b6" stroke-width="3.0" stroke-linecap="round" stroke-linejoin="round"/>
<polygon points="740,263.2 509.4,684.8 513.8,687.2 745.6,266.2" fill="#7e7e7e"/>
<polygon points="741,263.7 510.3,685.3 512.9,686.7 744.6,265.7" fill="#b8b8b8"/>
<line x1="677.8" y1="155.3" x2="673.6" y2="222" stroke="#666" stroke-width="1.8" />
<line x1="677.8" y1="155.3" x2="673.6" y2="222" stroke="#b0b0b0" stroke-width="0.6" />
<line x1="670.9" y1="251" x2="669.8" y2="268" stroke="#666" stroke-width="1.8" />
<line x1="670.9" y1="251" x2="669.8" y2="268" stroke="#b0b0b0" stroke-width="0.6" />
<line x1="840.3" y1="99.7" x2="776.4" y2="206.7" stroke="#666" stroke-width="1.8" />
<line x1="840.3" y1="99.7" x2="776.4" y2="206.7" stroke="#b0b0b0" stroke-width="0.6" />
<line x1="759.7" y1="238.6" x2="744.4" y2="265" stroke="#666" stroke-width="1.8" />
<line x1="759.7" y1="238.6" x2="744.4" y2="265" stroke="#b0b0b0" stroke-width="0.6" />
<ellipse cx="672.6" cy="223" rx="5.5" ry="3" fill="#9c9c9c" stroke="#707070" stroke-width="0.6" transform="rotate(-12 672.6 223)"/>
<line x1="674.5" y1="205" x2="673.3" y2="222" stroke="#b4b4b4" stroke-width="2.2" />
<line x1="783" y1="196" x2="776.4" y2="206.7" stroke="#b4b4b4" stroke-width="2.2" />
<g transform="translate(607.6 513.5) rotate(18)">
<path d="M-8.5 -1.2 C-5 -4.2 -2 1.2 0 -1.2 C2 -3.6 5 1.8 8.5 -1.2 L8.5 2.6 C5 5.6 2 0.2 0 2.6 C-2 5 -5 -0.4 -8.5 2.6Z" fill="#fdfdfd"/>
<path d="M-8.5 -1.6 C-5 -4.6 -2 0.8 0 -1.6 C2 -4 5 1.4 8.5 -1.6" fill="none" stroke="#555" stroke-width="1"/>
<path d="M-8.5 2.8 C-5 -0.2 -2 5.2 0 2.8 C2 0.4 5 5.8 8.5 2.8" fill="none" stroke="#555" stroke-width="1"/>
</g>
<g transform="translate(651.6 560.5) rotate(10)">
<path d="M-8.5 -1.2 C-5 -4.2 -2 1.2 0 -1.2 C2 -3.6 5 1.8 8.5 -1.2 L8.5 2.6 C5 5.6 2 0.2 0 2.6 C-2 5 -5 -0.4 -8.5 2.6Z" fill="#fdfdfd"/>
<path d="M-8.5 -1.6 C-5 -4.6 -2 0.8 0 -1.6 C2 -4 5 1.4 8.5 -1.6" fill="none" stroke="#555" stroke-width="1"/>
<path d="M-8.5 2.8 C-5 -0.2 -2 5.2 0 2.8 C2 0.4 5 5.8 8.5 2.8" fill="none" stroke="#555" stroke-width="1"/>
</g>
<g transform="translate(679.5 131.5) rotate(1)">
<path d="M-5.6 0 L5.6 0 L4 7.5 L3.6 23 L-3.6 23 L-4 7.5Z" fill="url(#g19)"/>
<ellipse cx="0" cy="0.3" rx="5.8" ry="2.6" fill="#8a8a8a" stroke="#555" stroke-width="0.8"/>
<ellipse cx="0" cy="0.3" rx="3.2" ry="1.3" fill="#5a5a5a"/>
</g>
<g transform="translate(851.5 79) rotate(27)">
<path d="M-5.6 0 L5.6 0 L4 7.5 L3.6 23 L-3.6 23 L-4 7.5Z" fill="url(#g20)"/>
<ellipse cx="0" cy="0.3" rx="5.8" ry="2.6" fill="#8a8a8a" stroke="#555" stroke-width="0.8"/>
<ellipse cx="0" cy="0.3" rx="3.2" ry="1.3" fill="#5a5a5a"/>
</g>
<ellipse cx="285" cy="638.2" rx="11.7" ry="17.5" transform="rotate(29.1 285 638.2)" fill="url(#g21)" stroke="none" stroke-width="1" />
<polygon points="276.5,653.5 304.5,669.1 321.5,638.5 293.5,622.9" fill="url(#g21)" stroke="none" stroke-width="1"/>
<ellipse cx="285" cy="638.2" rx="11.7" ry="17.5" transform="rotate(29.1 285 638.2)" fill="url(#g22)" stroke="none" stroke-width="1" />
<polygon points="277.5,654 304.5,669.1 321.5,638.5 294.5,623.4" fill="url(#g23)" stroke="none" stroke-width="1"/>
<ellipse cx="313" cy="653.8" rx="15.1" ry="22.5" transform="rotate(29.1 313 653.8)" fill="url(#g24)" stroke="none" stroke-width="1" />
<polygon points="302,673.4 309,677.3 331,638 324,634.1" fill="url(#g24)" stroke="none" stroke-width="1"/>
<ellipse cx="320" cy="657.7" rx="15.1" ry="22.5" transform="rotate(29.1 320 657.7)" fill="#a2a2a2" stroke="#6e6e6e" stroke-width="0.8" />
<ellipse cx="320" cy="657.7" rx="13.1" ry="19.5" transform="rotate(29.1 320 657.7)" fill="#767676" stroke="#666" stroke-width="0.8" />
<ellipse cx="320" cy="657.7" rx="11.7" ry="17.5" transform="rotate(29.1 320 657.7)" fill="url(#g25)" stroke="none" stroke-width="1" />
<ellipse cx="321" cy="658.3" rx="9" ry="13.5" transform="rotate(29.1 321 658.3)" fill="#acacac" stroke="#707070" stroke-width="0.8" />
<ellipse cx="320.5" cy="658" rx="7" ry="10.5" transform="rotate(29.1 320.5 658)" fill="url(#g26)" stroke="none" stroke-width="1" />
<line x1="321" y1="658.3" x2="365" y2="682.8" stroke="#f4f4f4" stroke-width="2.2" />
<line x1="321" y1="658.3" x2="365" y2="682.8" stroke="#4a4a4a" stroke-width="1.0" />
<path d="M377.4 655.9 A19.8 29.5 29.1 1 0 348.6 707.4 A19.8 29.5 29.1 1 0 377.4 655.9ZM373 663.8 A13.7 20.5 29.1 1 0 353 699.6 A13.7 20.5 29.1 1 0 373 663.8Z" fill="#727272" stroke="none" stroke-width="1" fill-rule="evenodd"/>
<path d="M377.9 656.2 A19.8 29.5 29.1 1 0 349.1 707.7 A19.8 29.5 29.1 1 0 377.9 656.2ZM373.2 664.5 A13.4 20 29.1 1 0 353.8 699.4 A13.4 20 29.1 1 0 373.2 664.5Z" fill="#787878" stroke="none" stroke-width="1" fill-rule="evenodd"/>
<path d="M379.6 657.1 A19.8 29.5 29.1 1 0 350.8 708.7 A19.8 29.5 29.1 1 0 379.6 657.1ZM374.7 665.9 A13.1 19.5 29.1 1 0 355.7 699.9 A13.1 19.5 29.1 1 0 374.7 665.9Z" fill="url(#g27)" stroke="#6a6a6a" stroke-width="0.7" fill-rule="evenodd"/>
<path d="M377.1 661.5 A16.4 24.5 29.1 1 0 353.3 704.3 A16.4 24.5 29.1 1 0 377.1 661.5ZM374.7 665.9 A13.1 19.5 29.1 1 0 355.7 699.9 A13.1 19.5 29.1 1 0 374.7 665.9Z" fill="url(#g28)" stroke="none" stroke-width="1" fill-rule="evenodd"/>
<line x1="365" y1="682.8" x2="416" y2="711.2" stroke="#f4f4f4" stroke-width="2.2" />
<line x1="365" y1="682.8" x2="416" y2="711.2" stroke="#4a4a4a" stroke-width="1.0" />
<path d="M423.9 685.3 A17.8 26.5 29.1 1 0 398.1 731.6 A17.8 26.5 29.1 1 0 423.9 685.3ZM416.8 698 A8 12 29.1 1 0 405.2 718.9 A8 12 29.1 1 0 416.8 698Z" fill="url(#g29)" stroke="none" stroke-width="1" fill-rule="evenodd"/>
<polygon points="398.1,731.6 407.1,736.6 432.9,690.3 423.9,685.3" fill="url(#g29)" stroke="none" stroke-width="1"/>
<ellipse cx="420" cy="713.5" rx="8.4" ry="12.5" transform="rotate(29.1 420 713.5)" fill="url(#g30)" stroke="none" stroke-width="1" />
<ellipse cx="413.5" cy="709.9" rx="7.5" ry="11.2" transform="rotate(29.1 413.5 709.9)" fill="#fdfdfd" stroke="none" stroke-width="1" />
<path d="M432.9 690.3 A17.8 26.5 29.1 1 0 407.1 736.6 A17.8 26.5 29.1 1 0 432.9 690.3ZM426.1 702.6 A8.4 12.5 29.1 1 0 413.9 724.4 A8.4 12.5 29.1 1 0 426.1 702.6Z" fill="url(#g31)" stroke="#6a6a6a" stroke-width="0.8" fill-rule="evenodd"/>
<path d="M429 697.3 A12.4 18.5 29.1 1 0 411 729.6 A12.4 18.5 29.1 1 0 429 697.3ZM426.1 702.6 A8.4 12.5 29.1 1 0 413.9 724.4 A8.4 12.5 29.1 1 0 426.1 702.6Z" fill="#8e8e8e" stroke="#747474" stroke-width="0.6" fill-rule="evenodd"/>
<line x1="417" y1="711.8" x2="468" y2="740.3" stroke="#f4f4f4" stroke-width="2.2" />
<line x1="417" y1="711.8" x2="468" y2="740.3" stroke="#4a4a4a" stroke-width="1.0" />
<ellipse cx="471" cy="741.9" rx="18.8" ry="28" transform="rotate(29.1 471 741.9)" fill="url(#g32)" stroke="none" stroke-width="1" />
<polygon points="457.4,766.4 480.4,779.2 507.6,730.3 484.6,717.5" fill="url(#g32)" stroke="none" stroke-width="1"/>
<ellipse cx="471" cy="741.9" rx="18.8" ry="28" transform="rotate(29.1 471 741.9)" fill="url(#g33)" stroke="#6a6a6a" stroke-width="0.6" />
<ellipse cx="472" cy="742.5" rx="16.1" ry="24" transform="rotate(29.1 472 742.5)" fill="#787878" stroke="none" stroke-width="1" />
<ellipse cx="472.5" cy="742.8" rx="13.1" ry="19.5" transform="rotate(29.1 472.5 742.8)" fill="#707070" stroke="none" stroke-width="1" />
<line x1="456.9" y1="731.2" x2="476.9" y2="742.4" stroke="#5e5e5e" stroke-width="0.9" />
<line x1="454.7" y1="735.2" x2="474.7" y2="746.3" stroke="#5e5e5e" stroke-width="0.9" />
<line x1="452.9" y1="739.3" x2="472.9" y2="750.4" stroke="#5e5e5e" stroke-width="0.9" />
<line x1="451.6" y1="743.4" x2="471.6" y2="754.6" stroke="#5e5e5e" stroke-width="0.9" />
<line x1="450.9" y1="747.6" x2="470.9" y2="758.8" stroke="#5e5e5e" stroke-width="0.9" />
<line x1="450.7" y1="751.6" x2="470.7" y2="762.8" stroke="#5e5e5e" stroke-width="0.9" />
<line x1="451" y1="755.4" x2="471" y2="766.6" stroke="#5e5e5e" stroke-width="0.9" />
<line x1="451.9" y1="758.9" x2="471.9" y2="770" stroke="#5e5e5e" stroke-width="0.9" />
<line x1="453.3" y1="761.9" x2="473.3" y2="773.1" stroke="#5e5e5e" stroke-width="0.9" />
<line x1="455.2" y1="764.5" x2="475.2" y2="775.6" stroke="#5e5e5e" stroke-width="0.9" />
<line x1="457.5" y1="766.4" x2="477.5" y2="777.6" stroke="#5e5e5e" stroke-width="0.9" />
<line x1="460.2" y1="767.8" x2="480.2" y2="778.9" stroke="#5e5e5e" stroke-width="0.9" />
<line x1="463.2" y1="768.5" x2="483.2" y2="779.6" stroke="#5e5e5e" stroke-width="0.9" />
<line x1="466.4" y1="768.5" x2="486.4" y2="779.7" stroke="#5e5e5e" stroke-width="0.9" />
<line x1="469.8" y1="767.9" x2="489.8" y2="779" stroke="#5e5e5e" stroke-width="0.9" />
<line x1="473.2" y1="766.6" x2="493.2" y2="777.8" stroke="#5e5e5e" stroke-width="0.9" />
<line x1="476.6" y1="764.7" x2="496.6" y2="775.8" stroke="#5e5e5e" stroke-width="0.9" />
<line x1="479.9" y1="762.2" x2="499.9" y2="773.4" stroke="#5e5e5e" stroke-width="0.9" />
<line x1="482.9" y1="759.2" x2="502.9" y2="770.4" stroke="#5e5e5e" stroke-width="0.9" />
<line x1="485.7" y1="755.8" x2="505.7" y2="767" stroke="#5e5e5e" stroke-width="0.9" />
<line x1="488.1" y1="752" x2="508.1" y2="763.2" stroke="#5e5e5e" stroke-width="0.9" />
<line x1="490.2" y1="748" x2="510.2" y2="759.2" stroke="#5e5e5e" stroke-width="0.9" />
<ellipse cx="496.5" cy="756.1" rx="36.5" ry="54.5" transform="rotate(29.1 496.5 756.1)" fill="url(#g34)" stroke="none" stroke-width="1" />
<polygon points="470,803.7 473.5,805.7 526.5,710.5 523,708.6" fill="url(#g34)" stroke="none" stroke-width="1"/>
<ellipse cx="500" cy="758.1" rx="36.5" ry="54.5" transform="rotate(29.1 500 758.1)" fill="url(#g35)" stroke="#6a6a6a" stroke-width="0.8" />
<ellipse cx="500" cy="758.1" rx="33.8" ry="50.5" transform="rotate(29.1 500 758.1)" fill="none" stroke="#9a9a9a" stroke-width="1.2" />
<circle cx="481.2" cy="799.5" r="1.9" fill="#5a5a5a"/>
<circle cx="482.1" cy="798.9" r="0.9" fill="#b0b0b0"/>
<circle cx="492.3" cy="800.6" r="1.9" fill="#5a5a5a"/>
<circle cx="493.2" cy="800" r="0.9" fill="#b0b0b0"/>
<circle cx="504.3" cy="796.7" r="1.9" fill="#5a5a5a"/>
<circle cx="505.2" cy="796.1" r="0.9" fill="#b0b0b0"/>
<circle cx="515.8" cy="788.1" r="1.9" fill="#5a5a5a"/>
<circle cx="516.7" cy="787.5" r="0.9" fill="#b0b0b0"/>
<circle cx="525.5" cy="776" r="1.9" fill="#5a5a5a"/>
<circle cx="526.4" cy="775.4" r="0.9" fill="#b0b0b0"/>
<circle cx="532.2" cy="761.7" r="1.9" fill="#5a5a5a"/>
<circle cx="533.1" cy="761.1" r="0.9" fill="#b0b0b0"/>
<circle cx="535.1" cy="747" r="1.9" fill="#5a5a5a"/>
<circle cx="536" cy="746.4" r="0.9" fill="#b0b0b0"/>
<circle cx="533.8" cy="733.7" r="1.9" fill="#5a5a5a"/>
<circle cx="534.7" cy="733.1" r="0.9" fill="#b0b0b0"/>
<circle cx="528.4" cy="723.4" r="1.9" fill="#5a5a5a"/>
<circle cx="529.3" cy="722.8" r="0.9" fill="#b0b0b0"/>
<circle cx="519.8" cy="717.3" r="1.9" fill="#5a5a5a"/>
<circle cx="520.7" cy="716.7" r="0.9" fill="#b0b0b0"/>
<circle cx="508.7" cy="716.2" r="1.9" fill="#5a5a5a"/>
<circle cx="509.6" cy="715.6" r="0.9" fill="#b0b0b0"/>
<circle cx="496.7" cy="720.1" r="1.9" fill="#5a5a5a"/>
<circle cx="497.6" cy="719.5" r="0.9" fill="#b0b0b0"/>
<circle cx="485.2" cy="728.7" r="1.9" fill="#5a5a5a"/>
<circle cx="486.1" cy="728.1" r="0.9" fill="#b0b0b0"/>
<circle cx="475.5" cy="740.8" r="1.9" fill="#5a5a5a"/>
<circle cx="476.4" cy="740.2" r="0.9" fill="#b0b0b0"/>
<circle cx="468.8" cy="755.1" r="1.9" fill="#5a5a5a"/>
<circle cx="469.7" cy="754.5" r="0.9" fill="#b0b0b0"/>
<circle cx="465.9" cy="769.7" r="1.9" fill="#5a5a5a"/>
<circle cx="466.8" cy="769.1" r="0.9" fill="#b0b0b0"/>
<circle cx="467.2" cy="783" r="1.9" fill="#5a5a5a"/>
<circle cx="468.1" cy="782.4" r="0.9" fill="#b0b0b0"/>
<circle cx="472.6" cy="793.3" r="1.9" fill="#5a5a5a"/>
<circle cx="473.5" cy="792.7" r="0.9" fill="#b0b0b0"/>
<ellipse cx="500" cy="758.1" rx="22.8" ry="34" transform="rotate(29.1 500 758.1)" fill="url(#g36)" stroke="none" stroke-width="1" />
<polygon points="483.4,787.8 488.6,785.5 517.4,734 516.6,728.4" fill="url(#g36)" stroke="url(#g36)" stroke-width="0.5"/>
<polygon points="488.6,785.5 493.8,785.6 520.2,738.4 517.4,734" fill="url(#g36)" stroke="url(#g36)" stroke-width="0.5"/>
<polygon points="493.8,785.6 500.6,787.6 525.4,743.1 520.2,738.4" fill="url(#g36)" stroke="url(#g36)" stroke-width="0.5"/>
<polygon points="500.6,787.6 517.8,796.7 542.2,753 525.4,743.1" fill="url(#g36)" stroke="url(#g36)" stroke-width="0.5"/>
<polygon points="517.8,796.7 525.1,802.4 550.9,756.2 542.2,753" fill="url(#g36)" stroke="url(#g36)" stroke-width="0.5"/>
<polygon points="525.1,802.4 529.4,808.8 558.6,756.4 550.9,756.2" fill="url(#g36)" stroke="url(#g36)" stroke-width="0.5"/>
<polygon points="529.4,808.8 533,816.6 567,755.4 558.6,756.4" fill="url(#g36)" stroke="url(#g36)" stroke-width="0.5"/>
<polygon points="533,816.6 536.3,824.7 575.7,754 567,755.4" fill="url(#g36)" stroke="url(#g36)" stroke-width="0.5"/>
<polygon points="536.3,824.7 540.1,832 583.9,753.4 575.7,754" fill="url(#g36)" stroke="url(#g36)" stroke-width="0.5"/>
<polygon points="540.1,832 544.6,838 591.4,754.1 583.9,753.4" fill="url(#g36)" stroke="url(#g36)" stroke-width="0.5"/>
<ellipse cx="568" cy="796" rx="32.2" ry="48" transform="rotate(29.1 568 796)" fill="url(#g36)" stroke="none" stroke-width="1" />
<ellipse cx="570.5" cy="797.4" rx="38.2" ry="57" transform="rotate(29.1 570.5 797.4)" fill="url(#g37)" stroke="none" stroke-width="1" />
<polygon points="542.7,847.2 547.7,850 603.3,750.4 598.3,747.6" fill="url(#g37)" stroke="none" stroke-width="1"/>
<ellipse cx="575.5" cy="800.2" rx="38.2" ry="57" transform="rotate(29.1 575.5 800.2)" fill="url(#g38)" stroke="#666" stroke-width="0.8" />
<circle cx="552.3" cy="846.7" r="1.9" fill="#585858"/>
<circle cx="553.2" cy="846.1" r="0.9" fill="#b4b4b4"/>
<circle cx="564.6" cy="848.9" r="1.9" fill="#585858"/>
<circle cx="565.5" cy="848.3" r="0.9" fill="#b4b4b4"/>
<circle cx="578.2" cy="845.3" r="1.9" fill="#585858"/>
<circle cx="579.1" cy="844.7" r="0.9" fill="#b4b4b4"/>
<circle cx="591.6" cy="836.2" r="1.9" fill="#585858"/>
<circle cx="592.5" cy="835.6" r="0.9" fill="#b4b4b4"/>
<circle cx="603.1" cy="822.9" r="1.9" fill="#585858"/>
<circle cx="604" cy="822.3" r="0.9" fill="#b4b4b4"/>
<circle cx="611.3" cy="806.8" r="1.9" fill="#585858"/>
<circle cx="612.2" cy="806.2" r="0.9" fill="#b4b4b4"/>
<circle cx="615.3" cy="790" r="1.9" fill="#585858"/>
<circle cx="616.2" cy="789.4" r="0.9" fill="#b4b4b4"/>
<circle cx="614.5" cy="774.4" r="1.9" fill="#585858"/>
<circle cx="615.4" cy="773.8" r="0.9" fill="#b4b4b4"/>
<circle cx="609.1" cy="762" r="1.9" fill="#585858"/>
<circle cx="610" cy="761.4" r="0.9" fill="#b4b4b4"/>
<circle cx="599.7" cy="754.3" r="1.9" fill="#585858"/>
<circle cx="600.6" cy="753.7" r="0.9" fill="#b4b4b4"/>
<circle cx="587.4" cy="752.1" r="1.9" fill="#585858"/>
<circle cx="588.3" cy="751.5" r="0.9" fill="#b4b4b4"/>
<circle cx="573.8" cy="755.7" r="1.9" fill="#585858"/>
<circle cx="574.7" cy="755.1" r="0.9" fill="#b4b4b4"/>
<circle cx="560.4" cy="764.8" r="1.9" fill="#585858"/>
<circle cx="561.3" cy="764.2" r="0.9" fill="#b4b4b4"/>
<circle cx="548.9" cy="778.1" r="1.9" fill="#585858"/>
<circle cx="549.8" cy="777.5" r="0.9" fill="#b4b4b4"/>
<circle cx="540.7" cy="794.2" r="1.9" fill="#585858"/>
<circle cx="541.6" cy="793.6" r="0.9" fill="#b4b4b4"/>
<circle cx="536.7" cy="811" r="1.9" fill="#585858"/>
<circle cx="537.6" cy="810.4" r="0.9" fill="#b4b4b4"/>
<circle cx="537.5" cy="826.5" r="1.9" fill="#585858"/>
<circle cx="538.4" cy="825.9" r="0.9" fill="#b4b4b4"/>
<circle cx="542.9" cy="839" r="1.9" fill="#585858"/>
<circle cx="543.8" cy="838.4" r="0.9" fill="#b4b4b4"/>
<ellipse cx="576" cy="800.5" rx="31.8" ry="47.5" transform="rotate(29.1 576 800.5)" fill="#9a9a9a" stroke="#6c6c6c" stroke-width="0.8" />
<ellipse cx="576" cy="800.5" rx="29.5" ry="44" transform="rotate(29.1 576 800.5)" fill="#808080" stroke="#606060" stroke-width="0.8" />
<ellipse cx="576" cy="800.5" rx="27.5" ry="41" transform="rotate(29.1 576 800.5)" fill="url(#g39)" stroke="none" stroke-width="1" />
<clipPath id="cpb"><ellipse cx="576" cy="800.5" rx="27.5" ry="41" transform="rotate(29.1 576 800.5)"/></clipPath>
<g clip-path="url(#cpb)">
<ellipse cx="566" cy="794.9" rx="26.1" ry="39" transform="rotate(29.1 566 794.9)" fill="none" stroke="#5a5a5a" stroke-width="2.2" />
<ellipse cx="566" cy="794.9" rx="24.5" ry="36.5" transform="rotate(29.1 566 794.9)" fill="none" stroke="#9a9a9a" stroke-width="1.6" />
<ellipse cx="556" cy="789.3" rx="22.1" ry="33" transform="rotate(29.1 556 789.3)" fill="url(#g40)" stroke="#5a5a5a" stroke-width="1.5" />
<ellipse cx="548" cy="784.9" rx="18.1" ry="27" transform="rotate(29.1 548 784.9)" fill="#7e7e7e" stroke="#606060" stroke-width="1" />
</g>
<line x1="566" y1="794.9" x2="640" y2="836.2" stroke="#f4f4f4" stroke-width="2.2" />
<line x1="566" y1="794.9" x2="640" y2="836.2" stroke="#4a4a4a" stroke-width="1.0" />
<ellipse cx="647" cy="840.1" rx="19.8" ry="29.5" transform="rotate(29.1 647 840.1)" fill="url(#g41)" stroke="none" stroke-width="1" />
<polygon points="632.6,865.9 647.6,874.2 676.4,822.7 661.4,814.3" fill="url(#g41)" stroke="none" stroke-width="1"/>
<ellipse cx="662" cy="848.5" rx="19.8" ry="29.5" transform="rotate(29.1 662 848.5)" fill="#8c8c8c" stroke="#686868" stroke-width="0.8" />
<ellipse cx="662" cy="848.5" rx="18.1" ry="27" transform="rotate(29.1 662 848.5)" fill="#606060" stroke="none" stroke-width="1" />
<polygon points="650.6,873.6 666.6,882.5 693.4,834.5 677.4,825.6" fill="url(#g42)" stroke="none" stroke-width="1"/>
<polygon points="676.2,825.3 690.7,833.4 681.7,833.7 667.2,825.6" fill="#5e5e5e"/>
<polygon points="677.1,826.3 689.1,833 683.2,833.3 671.2,826.6" fill="#8e8e8e"/>
<polygon points="655.3,833.4 669.8,841.5 662,853.4 647.5,845.3" fill="#5e5e5e"/>
<polygon points="656.2,836.6 668.2,843.3 662.8,851.7 650.8,845" fill="#8e8e8e"/>
<polygon points="644.6,860.6 659.1,868.7 663.1,879.6 648.6,871.5" fill="#5e5e5e"/>
<polygon points="647.3,864 659.3,870.7 662.3,878.6 650.3,871.9" fill="#8e8e8e"/>
<polygon points="661.2,875.8 675.7,883.9 685.8,879.4 671.3,871.3" fill="#5e5e5e"/>
<polygon points="665.5,876.8 677.5,883.5 684.4,880.4 672.4,873.7" fill="#8e8e8e"/>
<ellipse cx="680" cy="858.5" rx="18.4" ry="27.5" transform="rotate(29.1 680 858.5)" fill="#989898" stroke="#646464" stroke-width="0.8" />
<ellipse cx="680" cy="858.5" rx="15.1" ry="22.5" transform="rotate(29.1 680 858.5)" fill="url(#g43)" stroke="#5a5a5a" stroke-width="0.8" />
<polygon points="690.3,832.6 682.5,832.8 681.9,838.9 687.9,838.7" fill="#626262"/>
<polygon points="668.9,841.8 661.9,852.4 666.2,853.8 671.5,845.8" fill="#626262"/>
<polygon points="658.7,869.8 662.2,879.6 666.5,874.6 663.7,867.1" fill="#626262"/>
<polygon points="676.4,884.4 685.3,880.4 684,875.2 677.2,878.3" fill="#626262"/>
<polygon points="696.5,867.7 700.2,858.7 695.4,858.7 692.6,865.5" fill="#626262"/>
<polygon points="701.1,845.6 698.6,838.5 694.1,843.3 696.1,848.6" fill="#626262"/>
<ellipse cx="681" cy="859.1" rx="11.7" ry="17.5" transform="rotate(29.1 681 859.1)" fill="#9a9a9a" stroke="#5e5e5e" stroke-width="0.8" />
<ellipse cx="681" cy="859.1" rx="9" ry="13.5" transform="rotate(29.1 681 859.1)" fill="url(#g44)" stroke="#5a5a5a" stroke-width="0.6" />
<line x1="679" y1="857.9" x2="747" y2="895.9" stroke="#f4f4f4" stroke-width="2.2" />
<line x1="679" y1="857.9" x2="747" y2="895.9" stroke="#4a4a4a" stroke-width="1.0" />
<ellipse cx="747" cy="895.9" rx="9.7" ry="14.5" transform="rotate(29.1 747 895.9)" fill="url(#g45)" stroke="none" stroke-width="1" />
<polygon points="739.9,908.5 762.9,921.4 777.1,896 754.1,883.2" fill="url(#g45)" stroke="none" stroke-width="1"/>
<ellipse cx="747" cy="895.9" rx="9.7" ry="14.5" transform="rotate(29.1 747 895.9)" fill="url(#g46)" stroke="none" stroke-width="1" />
<polygon points="740.9,909.1 762.9,921.4 777.1,896 755.1,883.8" fill="url(#g47)" stroke="none" stroke-width="1"/>
<polygon points="763.5,920.3 772.5,925.3 785.5,902.1 776.5,897.1" fill="url(#g48)" stroke="none" stroke-width="1"/>
<ellipse cx="779" cy="913.7" rx="10.2" ry="15.2" transform="rotate(29.1 779 913.7)" fill="url(#g49)" stroke="none" stroke-width="1" />
<polygon points="771.6,927 775.6,929.2 790.4,902.7 786.4,900.5" fill="url(#g49)" stroke="none" stroke-width="1"/>
<polygon points="776.1,928.4 822.1,954 835.9,929.2 789.9,903.6" fill="url(#g50)" stroke="none" stroke-width="1"/>
<ellipse cx="829" cy="941.6" rx="10.5" ry="15.6" transform="rotate(29.1 829 941.6)" fill="url(#g51)" stroke="none" stroke-width="1" />
<polygon points="821.4,955.2 825.4,957.5 840.6,930.2 836.6,928" fill="url(#g51)" stroke="none" stroke-width="1"/>
<polygon points="825.8,956.8 888.8,991.9 903.2,966.1 840.2,930.9" fill="url(#g52)" stroke="none" stroke-width="1"/>
<polygon points="889.2,991.2 910.2,1002.9 923.8,978.5 902.8,966.8" fill="url(#g53)" stroke="none" stroke-width="1"/>
<path d="M777 896.1 A9.6 14.4 29.1 0 1 763 921.3" fill="none" stroke="#666" stroke-width="0.9" />
<path d="M903 966.4 A9.6 14.4 29.1 0 1 889 991.6" fill="none" stroke="#666" stroke-width="0.9" />
<path d="M911 970.9 A9.6 14.4 29.1 0 1 897 996" fill="none" stroke="#666" stroke-width="0.9" />
<ellipse cx="884.6" cy="958.9" rx="2.6" ry="1.6" fill="#5e5e5e" transform="rotate(29 884.6 958.9)"/>
<ellipse cx="917" cy="990.7" rx="9.4" ry="14" transform="rotate(29.1 917 990.7)" fill="#9a9a9a" stroke="#686868" stroke-width="0.8" />
<ellipse cx="917" cy="990.7" rx="7.4" ry="11" transform="rotate(29.1 917 990.7)" fill="url(#g54)" stroke="none" stroke-width="1" />
<line x1="912" y1="987.9" x2="962" y2="1015.8" stroke="#f4f4f4" stroke-width="2.2" />
<line x1="912" y1="987.9" x2="962" y2="1015.8" stroke="#4a4a4a" stroke-width="1.0" />
<g transform="translate(-1 -4)">
<ellipse cx="951" cy="1009.7" rx="10.6" ry="15.8" transform="rotate(29.1 951 1009.7)" fill="url(#g55)" stroke="none" stroke-width="1" />
<polygon points="943.3,1023.5 967.3,1036.9 982.7,1009.3 958.7,995.9" fill="url(#g55)" stroke="none" stroke-width="1"/>
<path d="M963.7 998.7 A10.6 15.8 29.1 0 1 948.3 1026.3" fill="none" stroke="#6a6a6a" stroke-width="0.9" />
<ellipse cx="975" cy="1023.1" rx="10.6" ry="15.8" transform="rotate(29.1 975 1023.1)" fill="#a0a0a0" stroke="#686868" stroke-width="0.8" />
<ellipse cx="975" cy="1023.1" rx="8.4" ry="12.5" transform="rotate(29.1 975 1023.1)" fill="url(#g56)" stroke="none" stroke-width="1" />
</g>
<line x1="968" y1="1019.2" x2="1012" y2="1043.7" stroke="#f4f4f4" stroke-width="2.2" />
<line x1="968" y1="1019.2" x2="1012" y2="1043.7" stroke="#4a4a4a" stroke-width="1.0" />
<g transform="translate(0 -3)">
<ellipse cx="1017" cy="1046.5" rx="21.8" ry="32.5" transform="rotate(29.1 1017 1046.5)" fill="url(#g57)" stroke="none" stroke-width="1" />
<polygon points="1001.2,1074.9 1006.2,1077.7 1037.8,1020.9 1032.8,1018.1" fill="url(#g57)" stroke="none" stroke-width="1"/>
<ellipse cx="1022" cy="1049.3" rx="23.1" ry="34.5" transform="rotate(29.1 1022 1049.3)" fill="url(#g58)" stroke="none" stroke-width="1" />
<polygon points="1005.2,1079.4 1015.2,1085 1048.8,1024.7 1038.8,1019.1" fill="url(#g58)" stroke="none" stroke-width="1"/>
<ellipse cx="1032" cy="1054.8" rx="23.1" ry="34.5" transform="rotate(29.1 1032 1054.8)" fill="#989898" stroke="#666" stroke-width="0.8" />
<ellipse cx="1032" cy="1054.8" rx="20.1" ry="30" transform="rotate(29.1 1032 1054.8)" fill="#767676" stroke="none" stroke-width="1" />
<polygon points="1018.1,1079.7 1063.1,1104.8 1090.9,1055.1 1045.9,1030" fill="url(#g59)" stroke="none" stroke-width="1"/>
<line x1="1050.3" y1="1032.4" x2="1087.3" y2="1053.1" stroke="#5a5a5a" stroke-width="1.4" />
<line x1="1046.1" y1="1031.2" x2="1083.1" y2="1051.8" stroke="#5a5a5a" stroke-width="1.4" />
<line x1="1041.4" y1="1031.3" x2="1078.4" y2="1051.9" stroke="#5a5a5a" stroke-width="1.4" />
<line x1="1036.5" y1="1032.8" x2="1073.5" y2="1053.4" stroke="#5a5a5a" stroke-width="1.4" />
<line x1="1031.7" y1="1035.5" x2="1068.7" y2="1056.1" stroke="#5a5a5a" stroke-width="1.4" />
<line x1="1027.1" y1="1039.4" x2="1064.1" y2="1060" stroke="#5a5a5a" stroke-width="1.4" />
<line x1="1023" y1="1044.2" x2="1060" y2="1064.8" stroke="#5a5a5a" stroke-width="1.4" />
<line x1="1019.6" y1="1049.7" x2="1056.6" y2="1070.3" stroke="#5a5a5a" stroke-width="1.4" />
<line x1="1017.1" y1="1055.6" x2="1054.1" y2="1076.2" stroke="#5a5a5a" stroke-width="1.4" />
<line x1="1015.7" y1="1061.6" x2="1052.7" y2="1082.2" stroke="#5a5a5a" stroke-width="1.4" />
<line x1="1015.3" y1="1067.4" x2="1052.3" y2="1088" stroke="#5a5a5a" stroke-width="1.4" />
<line x1="1016.1" y1="1072.7" x2="1053.1" y2="1093.3" stroke="#5a5a5a" stroke-width="1.4" />
<line x1="1017.9" y1="1077.2" x2="1054.9" y2="1097.9" stroke="#5a5a5a" stroke-width="1.4" />
<line x1="1020.7" y1="1080.8" x2="1057.7" y2="1101.4" stroke="#5a5a5a" stroke-width="1.4" />
<line x1="1024.3" y1="1083.1" x2="1061.3" y2="1103.8" stroke="#5a5a5a" stroke-width="1.4" />
<ellipse cx="1075" cy="1078.8" rx="19.8" ry="29.5" transform="rotate(29.1 1075 1078.8)" fill="url(#g60)" stroke="none" stroke-width="1" />
<polygon points="1060.6,1104.6 1065.6,1107.4 1094.4,1055.9 1089.4,1053.1" fill="url(#g60)" stroke="none" stroke-width="1"/>
<ellipse cx="1080" cy="1081.6" rx="19.8" ry="29.5" transform="rotate(29.1 1080 1081.6)" fill="#909090" stroke="#5e5e5e" stroke-width="1" />
<circle cx="1073.5" cy="1109.1" r="1.6" fill="#fdfdfd"/>
<circle cx="1080.5" cy="1107.4" r="1.6" fill="#fdfdfd"/>
<circle cx="1087.4" cy="1103.1" r="1.6" fill="#fdfdfd"/>
<circle cx="1093.6" cy="1096.8" r="1.6" fill="#fdfdfd"/>
<circle cx="1098.4" cy="1089" r="1.6" fill="#fdfdfd"/>
<circle cx="1101.5" cy="1080.4" r="1.6" fill="#fdfdfd"/>
<circle cx="1102.5" cy="1072" r="1.6" fill="#fdfdfd"/>
<circle cx="1101.2" cy="1064.5" r="1.6" fill="#fdfdfd"/>
<circle cx="1097.9" cy="1058.7" r="1.6" fill="#fdfdfd"/>
<circle cx="1092.8" cy="1055.1" r="1.6" fill="#fdfdfd"/>
<ellipse cx="1080" cy="1081.6" rx="16.8" ry="25" transform="rotate(29.1 1080 1081.6)" fill="#7c7c7c" stroke="#5e5e5e" stroke-width="0.8" />
<ellipse cx="1080" cy="1081.6" rx="14.4" ry="21.5" transform="rotate(29.1 1080 1081.6)" fill="#9a9a9a" stroke="#666" stroke-width="0.8" />
<ellipse cx="1080" cy="1081.6" rx="12.1" ry="18" transform="rotate(29.1 1080 1081.6)" fill="url(#g61)" stroke="#5e5e5e" stroke-width="0.8" />
<ellipse cx="1076" cy="1079.4" rx="8.7" ry="13" transform="rotate(29.1 1076 1079.4)" fill="#8a8a8a" stroke="#666" stroke-width="0.8" />
</g>
<line x1="1070" y1="1076" x2="1118" y2="1102.8" stroke="#f4f4f4" stroke-width="2.2" />
<line x1="1070" y1="1076" x2="1118" y2="1102.8" stroke="#4a4a4a" stroke-width="1.0" />
<g transform="translate(-3 -4.5)">
<ellipse cx="1124" cy="1106.2" rx="13.7" ry="20.5" transform="rotate(29.1 1124 1106.2)" fill="url(#g62)" stroke="none" stroke-width="1" />
<polygon points="1114,1124.1 1120,1127.4 1140,1091.6 1134,1088.3" fill="url(#g62)" stroke="none" stroke-width="1"/>
<ellipse cx="1130" cy="1109.5" rx="13.7" ry="20.5" transform="rotate(29.1 1130 1109.5)" fill="#929292" stroke="#686868" stroke-width="0.8" />
<polygon points="1121.2,1125.2 1141.2,1136.4 1158.8,1104.9 1138.8,1093.8" fill="url(#g63)" stroke="none" stroke-width="1"/>
<ellipse cx="1150" cy="1120.7" rx="12.1" ry="18" transform="rotate(29.1 1150 1120.7)" fill="#a2a2a2" stroke="#686868" stroke-width="0.8" />
<ellipse cx="1150" cy="1120.7" rx="9" ry="13.5" transform="rotate(29.1 1150 1120.7)" fill="url(#g64)" stroke="#707070" stroke-width="0.7" />
</g>
<line x1="1185" y1="1140.2" x2="1247" y2="1174.8" stroke="#f4f4f4" stroke-width="2.2" />
<line x1="1185" y1="1140.2" x2="1247" y2="1174.8" stroke="#4a4a4a" stroke-width="1.0" />
<path d="M1265.5 1143.9 A24.1 36 29.1 1 0 1230.5 1206.8 A24.1 36 29.1 1 0 1265.5 1143.9ZM1263.7 1147.2 A21.6 32.2 29.1 1 0 1232.3 1203.5 A21.6 32.2 29.1 1 0 1263.7 1147.2Z" fill="#a0a0a0" stroke="#6a6a6a" stroke-width="0.9" fill-rule="evenodd"/>
<line x1="1247" y1="1174.8" x2="1303" y2="1206" stroke="#f4f4f4" stroke-width="2.2" />
<line x1="1247" y1="1174.8" x2="1303" y2="1206" stroke="#4a4a4a" stroke-width="1.0" />
<path d="M1251.7 238 L1252.6 224 Q1253.5 212 1260.3 211.8 Q1267 212 1267.9 224 L1268.8 238 Q1260.3 243 1251.7 238Z" fill="url(#g65)" stroke="#777" stroke-width="0.6" />
<path d="M1251.7 236.5 Q1260.3 241.5 1268.8 236.5 L1268.8 238 Q1260.3 243 1251.7 238Z" fill="#6a6a6a" stroke="none" stroke-width="1" />
<path d="M1248.7 272 L1248.7 279 A11.8 5.6 0 0 0 1272.3 279 L1272.3 272Z" fill="url(#g66)" stroke="none" stroke-width="1" />
<ellipse cx="1260.5" cy="272" rx="11.8" ry="5.6" fill="#9a9a9a" stroke="#6a6a6a" stroke-width="0.7"/>
<ellipse cx="1260.5" cy="270.6" rx="8.6" ry="4" fill="#868686" stroke="#666" stroke-width="0.7"/>
<ellipse cx="1260.5" cy="270.2" rx="6.2" ry="2.9" fill="#5e5e5e"/>
<ellipse cx="1260.5" cy="271" rx="4.6" ry="1.9" fill="#8a8a8a"/>
<ellipse cx="1260.7" cy="307.8" rx="8.6" ry="4.3" fill="none" stroke="#6e6e6e" stroke-width="3.6"/>
<ellipse cx="1260.7" cy="307.6" rx="8.6" ry="4.3" fill="none" stroke="#b4b4b4" stroke-width="2"/>
<path d="M1247.2 342 Q1249 335.5 1258 334.4 Q1268 333.6 1272 340 Q1275.5 347 1273.5 352 Q1271 356 1264 354.5 L1249.5 348.5 Q1246.5 346 1247.2 342Z" fill="#8e8e8e" stroke="#6a6a6a" stroke-width="0.8" />
<path d="M1247.2 342 Q1246.5 346 1249.5 348.5 L1264 354.5 Q1271 356 1273.5 352 Q1274.5 349 1274.3 346 Q1272 351.5 1265 350.5 L1250 345 Q1247.5 344 1247.2 342Z" fill="#686868" stroke="none" stroke-width="1" />
<ellipse cx="1260" cy="342" rx="6.4" ry="3.3" transform="rotate(8 1260 342)" fill="#fdfdfd" stroke="#6a6a6a" stroke-width="0.8"/>
<path d="M1259.5 380.5 h1.8 v4.8 h-1.8z" fill="#808080" stroke="none" stroke-width="1" />
<path d="M1257.2 385 h6.6 v14.6 h-6.6z" fill="url(#g67)" stroke="none" stroke-width="1" />
<line x1="1257.2" y1="387.5" x2="1263.8" y2="387.5" stroke="#6e6e6e" stroke-width="0.7" />
<line x1="1257.2" y1="390" x2="1263.8" y2="390" stroke="#6e6e6e" stroke-width="0.7" />
<line x1="1257.2" y1="392.5" x2="1263.8" y2="392.5" stroke="#6e6e6e" stroke-width="0.7" />
<line x1="1257.2" y1="395" x2="1263.8" y2="395" stroke="#6e6e6e" stroke-width="0.7" />
<line x1="1257.2" y1="397.5" x2="1263.8" y2="397.5" stroke="#6e6e6e" stroke-width="0.7" />
<path d="M1255.1 399.5 h10.4 v72 h-10.4z" fill="url(#g67)" stroke="none" stroke-width="1" />
<line x1="1262.3" y1="440" x2="1262.3" y2="470" stroke="#707070" stroke-width="0.6" />
<path d="M1253.7 468 L1268.6 468 L1276 477.5 L1276 481.5 L1260 488.8 L1246.6 483 L1246.6 478.5Z" fill="#7c7c7c" stroke="#666" stroke-width="0.6" />
<path d="M1253.7 468 L1268.6 468 L1276 477.5 L1260 484.3 L1246.6 478.5Z" fill="#9a9a9a" stroke="none" stroke-width="1" />
<path d="M1246.6 478.5 L1260 484.3 L1260 488.8 L1246.6 483Z" fill="#6e6e6e" stroke="none" stroke-width="1" />
<path d="M1260 484.3 L1276 477.5 L1276 481.5 L1260 488.8Z" fill="#5a5a5a" stroke="none" stroke-width="1" />
<path d="M1255.1 466 h10.4 v6.5 q-5.2 2.4 -10.4 0z" fill="url(#g67)" stroke="none" stroke-width="1" />
<path d="M1431 231 L1443 221.5 L1462 220 L1469.2 226.5 L1469.2 233 L1456 245.5 L1437.5 247.2 L1431 240.5Z" fill="#707070" stroke="#5e5e5e" stroke-width="0.7" />
<path d="M1431 231 L1443 221.5 L1462 220 L1469.2 226.5 L1456 238 L1437.5 239.8Z" fill="#a0a0a0" stroke="#777" stroke-width="0.6" />
<path d="M1437.5 239.8 L1456 238 L1456 245.5 L1437.5 247.2Z" fill="#8a8a8a" stroke="none" stroke-width="1" />
<path d="M1456 238 L1469.2 226.5 L1469.2 233 L1456 245.5Z" fill="#5c5c5c" stroke="none" stroke-width="1" />
<ellipse cx="1450.5" cy="228.5" rx="1.8" ry="2.6" fill="#4e4e4e" transform="rotate(20 1450.5 228.5)"/>
<path d="M1617 412.6 L1641.5 426.6 L1438.1 539.5 L1413.7 525.6Z" fill="#fff" stroke="#222" stroke-width="1.2" />
<path d="M1511 461 C1517 462 1517 470 1524 471 C1531 472 1532 481 1541 483.5 L1545.5 486 L1545 489 L1536 489 C1530 486 1529 478 1522 477 C1515 476 1514 468 1508 466.5 Z" fill="#fff" stroke="none" stroke-width="1" />
<path d="M1512 463 C1518 464 1518 471.5 1525 472.5 C1531.5 473.5 1532.5 482 1541.5 484.5" fill="none" stroke="#222" stroke-width="1.1" />
<path d="M1515.5 460.8 C1521.5 461.8 1521.5 469.3 1528.5 470.3 C1535 471.3 1536 479.8 1545 482.3" fill="none" stroke="#222" stroke-width="1.1" />
<path d="M1513.5 461.9 C1519.5 462.9 1519.5 470.4 1526.5 471.4 C1533 472.4 1534 480.9 1543 483.4" fill="none" stroke="#fff" stroke-width="2.2" />
<path d="M1181.5 735.2L1194.5 732.1L1207.6 729.2L1220.7 726.5L1233.9 723.9L1247.1 721.4L1260.3 719.1L1273.5 717L1286.7 715L1300 713.2L1313.3 711.5L1326.6 710L1340 708.7L1353.3 707.5L1366.7 706.5L1380 705.6L1393.4 704.9L1406.8 704.3L1420.2 703.9L1433.6 703.7L1447 703.6L1460.4 703.7L1473.8 703.9L1487.2 704.3L1500.6 704.9L1514 705.6L1527.3 706.5L1540.7 707.5L1554 708.7L1567.4 710L1580.7 711.5L1594 713.2L1607.3 715L1620.5 717L1633.7 719.1L1646.9 721.4L1660.1 723.9L1673.3 726.5L1686.4 729.2L1699.5 732.1L1712.5 735.2L1709.2 748.8L1696.3 745.8L1683.4 742.9L1670.5 740.2L1657.5 737.6L1644.5 735.2L1631.4 732.9L1618.4 730.8L1605.3 728.9L1592.2 727.1L1579 725.4L1565.9 723.9L1552.7 722.6L1539.5 721.4L1526.3 720.4L1513.1 719.6L1499.9 718.9L1486.7 718.3L1473.5 717.9L1460.2 717.7L1447 717.6L1433.8 717.7L1420.5 717.9L1407.3 718.3L1394.1 718.9L1380.9 719.6L1367.7 720.4L1354.5 721.4L1341.3 722.6L1328.1 723.9L1315 725.4L1301.8 727.1L1288.7 728.9L1275.6 730.8L1262.6 732.9L1249.5 735.2L1236.5 737.6L1223.5 740.2L1210.6 742.9L1197.7 745.8L1184.8 748.8Z" fill="#7e7e7e" stroke="#7e7e7e" stroke-width="1.2" stroke-linejoin="round"/>
<path d="M1183 736.2L1192.6 733.9L1202.4 731.7L1212.1 729.6L1221.8 727.6L1231.6 725.6L1241.4 723.8L1251.2 722L1261 720.3L1262.9 731.6L1253.2 733.2L1243.5 735L1233.8 736.8L1224.1 738.7L1214.5 740.7L1204.8 742.8L1195.2 745L1185.6 747.3Z" fill="#bcbcbc" stroke="none" stroke-width="1" />
<path id="arcT" d="M1184 745.5 A1120.4 1120.4 0 0 1 1710 745.5" fill="none"/>
<path id="arcT2" d="M1184.2 746.5 A1119.4 1119.4 0 0 1 1709.8 746.5" fill="none"/>
<path id="arcT3" d="M1183 741.2 A1124.8 1124.8 0 0 1 1711 741.2" fill="none"/>
<text font-size="10" font-weight="bold" fill="#111"><textPath href="#arcT" startOffset="6.5" textLength="70" lengthAdjust="spacingAndGlyphs">▲WARNING</textPath></text>
<text font-size="10.6" fill="#fff"><textPath href="#arcT" startOffset="108" textLength="248" lengthAdjust="spacingAndGlyphs">▪ Disc brake only!  ▪  Max. pressure: 5bar / 72psi</textPath></text>
<text font-size="4.9" fill="#fff"><textPath href="#arcT3" startOffset="367" textLength="150" lengthAdjust="spacingAndGlyphs">Higher pressure can cause sudden puncture and / or</textPath></text>
<text font-size="4.9" fill="#fff"><textPath href="#arcT2" startOffset="367" textLength="150" lengthAdjust="spacingAndGlyphs">sudden release of the tire! Serious injury can result.</textPath></text>
<rect x="1271.5" y="719.1" width="10" height="9" fill="#ececec" transform="rotate(-12 1276.5 723.6)"/>
<rect x="1273.7" y="720.6" width="1.6" height="6" fill="#444" transform="rotate(-12 1276.5 723.6)"/>
<rect x="1477.5" y="743.3" width="92" height="11" rx="3.5" fill="#4e4e4e"/>
<text x="1523.5" y="752.6" font-size="11" font-weight="bold" fill="#fff" text-anchor="middle"  textLength="84" lengthAdjust="spacingAndGlyphs">WH-RX180</text>
<rect x="1512.7" y="754" width="21.3" height="66" fill="#555"/>
<rect x="1485" y="819.5" width="76" height="11.2" rx="3" fill="#f2f2f2" stroke="#6a6a6a" stroke-width="0.9"/>
<text x="0" y="0" font-size="11.5" font-weight="bold" fill="#fff" stroke="#333" stroke-width="0.9" text-anchor="middle" textLength="70" lengthAdjust="spacingAndGlyphs" transform="translate(1523 821.2) scale(1 -1)" style="paint-order:stroke">SHIMANO</text>
<rect x="1358.3" y="768.5" width="85.7" height="23.8" rx="4.5" fill="#555"/>
<text x="1362.5" y="778" font-size="5.6" font-weight="normal" fill="#e8e8e8" text-anchor="start"  textLength="76" lengthAdjust="spacingAndGlyphs">622×25TC (ISO5775-2)</text>
<text x="1362.5" y="787.5" font-size="5.8" font-weight="normal" fill="#e8e8e8" text-anchor="start"  textLength="60" lengthAdjust="spacingAndGlyphs">ALLOY MALAYSIA</text>
<text x="1425.5" y="787.8" font-size="6.6" font-weight="bold" fill="#fff" text-anchor="start"  textLength="14" lengthAdjust="spacingAndGlyphs">VIA</text>
<path d="M1497.6 1022 C1497.6 1016 1500 1013 1506 1011 L1562 1011 C1568 1013 1570.6 1016 1570.6 1022 L1570.6 1078 C1570.6 1086 1556 1091.5 1534 1091.5 C1512 1091.5 1497.6 1086 1497.6 1078Z" fill="#fff" stroke="#1a1a1a" stroke-width="1.6" />
<path d="M1499.5 1074 C1503 1084 1518 1088.5 1534 1088.5 C1552 1088.5 1566 1084 1568.8 1074" fill="none" stroke="#555" stroke-width="1" />
<path d="M1508.5 1044.5 C1517 1047.8 1550 1047.8 1560.5 1044.5 L1560.5 1063 C1550 1066.2 1517 1066.2 1508.5 1063Z" fill="#222" stroke="none" stroke-width="1" />
<path d="M1507 1041 C1517 1044 1550 1044 1561.5 1041" fill="none" stroke="#555" stroke-width="0.8" />
<line x1="1510.5" y1="1069.5" x2="1540.5" y2="1070.7" stroke="#333" stroke-width="1.7" stroke-dasharray="1.6 0.7"/>
<line x1="1510.5" y1="1073.9" x2="1530.5" y2="1074.9" stroke="#333" stroke-width="1.7" stroke-dasharray="1.6 0.7"/>
<line x1="1510.5" y1="1078.2" x2="1546.5" y2="1079.1" stroke="#333" stroke-width="1.7" stroke-dasharray="1.6 0.7"/>
<line x1="1510.5" y1="1082.5" x2="1536.5" y2="1083.3" stroke="#333" stroke-width="1.7" stroke-dasharray="1.6 0.7"/>
<line x1="1562.8" y1="1045" x2="1568.5" y2="1043.7" stroke="#444" stroke-width="1.1" />
<line x1="1562.8" y1="1049" x2="1568.5" y2="1047.7" stroke="#444" stroke-width="1.1" />
<line x1="1562.8" y1="1053" x2="1568.5" y2="1051.7" stroke="#444" stroke-width="1.1" />
<line x1="1562.8" y1="1057" x2="1568.5" y2="1055.7" stroke="#444" stroke-width="1.1" />
<line x1="1562.8" y1="1061" x2="1568.5" y2="1059.7" stroke="#444" stroke-width="1.1" />
<line x1="1562.8" y1="1065" x2="1568.5" y2="1063.7" stroke="#444" stroke-width="1.1" />
<line x1="1562.8" y1="1069" x2="1568.5" y2="1067.7" stroke="#444" stroke-width="1.1" />
<line x1="1562.8" y1="1073" x2="1568.5" y2="1071.7" stroke="#444" stroke-width="1.1" />
<line x1="1506.5" y1="1038" x2="1506.5" y2="1083" stroke="#888" stroke-width="0.7" />
<path d="M1502 1004 L1502 1019 C1502 1027 1516 1031.5 1533.5 1031.5 C1551 1031.5 1565 1027 1565 1019 L1565 1004Z" fill="#fff" stroke="#1a1a1a" stroke-width="1.5" />
<line x1="1504" y1="1012.9" x2="1504" y2="1022.1" stroke="#555" stroke-width="0.7" />
<line x1="1506.4" y1="1014.2" x2="1506.4" y2="1023.4" stroke="#555" stroke-width="0.7" />
<line x1="1508.8" y1="1015.1" x2="1508.8" y2="1024.4" stroke="#555" stroke-width="0.7" />
<line x1="1511.1" y1="1015.8" x2="1511.1" y2="1025.1" stroke="#555" stroke-width="0.7" />
<line x1="1513.5" y1="1016.4" x2="1513.5" y2="1025.7" stroke="#555" stroke-width="0.7" />
<line x1="1515.9" y1="1016.9" x2="1515.9" y2="1026.2" stroke="#555" stroke-width="0.7" />
<line x1="1518.3" y1="1017.3" x2="1518.3" y2="1026.6" stroke="#555" stroke-width="0.7" />
<line x1="1520.7" y1="1017.6" x2="1520.7" y2="1027" stroke="#555" stroke-width="0.7" />
<line x1="1523" y1="1017.8" x2="1523" y2="1027.2" stroke="#555" stroke-width="0.7" />
<line x1="1525.4" y1="1018" x2="1525.4" y2="1027.4" stroke="#555" stroke-width="0.7" />
<line x1="1527.8" y1="1018.2" x2="1527.8" y2="1027.6" stroke="#555" stroke-width="0.7" />
<line x1="1530.2" y1="1018.3" x2="1530.2" y2="1027.7" stroke="#555" stroke-width="0.7" />
<line x1="1532.6" y1="1018.3" x2="1532.6" y2="1027.7" stroke="#555" stroke-width="0.7" />
<line x1="1534.9" y1="1018.3" x2="1534.9" y2="1027.7" stroke="#555" stroke-width="0.7" />
<line x1="1537.3" y1="1018.2" x2="1537.3" y2="1027.7" stroke="#555" stroke-width="0.7" />
<line x1="1539.7" y1="1018.1" x2="1539.7" y2="1027.5" stroke="#555" stroke-width="0.7" />
<line x1="1542.1" y1="1018" x2="1542.1" y2="1027.4" stroke="#555" stroke-width="0.7" />
<line x1="1544.5" y1="1017.8" x2="1544.5" y2="1027.2" stroke="#555" stroke-width="0.7" />
<line x1="1546.8" y1="1017.5" x2="1546.8" y2="1026.9" stroke="#555" stroke-width="0.7" />
<line x1="1549.2" y1="1017.2" x2="1549.2" y2="1026.6" stroke="#555" stroke-width="0.7" />
<line x1="1551.6" y1="1016.8" x2="1551.6" y2="1026.1" stroke="#555" stroke-width="0.7" />
<line x1="1554" y1="1016.3" x2="1554" y2="1025.6" stroke="#555" stroke-width="0.7" />
<line x1="1556.4" y1="1015.7" x2="1556.4" y2="1025" stroke="#555" stroke-width="0.7" />
<line x1="1558.7" y1="1015" x2="1558.7" y2="1024.2" stroke="#555" stroke-width="0.7" />
<line x1="1561.1" y1="1014" x2="1561.1" y2="1023.2" stroke="#555" stroke-width="0.7" />
<line x1="1563.5" y1="1012.5" x2="1563.5" y2="1021.7" stroke="#555" stroke-width="0.7" />
<ellipse cx="1533.5" cy="1005" rx="31.5" ry="19.5" fill="#fff" stroke="#1a1a1a" stroke-width="1.6"/>
<path d="M1504 1008 C1508 1021 1528 1024.5 1545 1022.5" fill="none" stroke="#777" stroke-width="0.9" />
<g font-family="Liberation Serif, serif" font-size="38.5">
<text x="1640.4" y="1206" fill="#4668b4" textLength="29.8" lengthAdjust="spacingAndGlyphs">m</text>
<text x="1670.7" y="1206" fill="#46a63a" textLength="19" lengthAdjust="spacingAndGlyphs">o</text>
<text x="1690" y="1206" fill="#de5aa4" textLength="11.4" lengthAdjust="spacingAndGlyphs">t</text>
<text x="1702" y="1206" fill="#2c9846" textLength="18.6" lengthAdjust="spacingAndGlyphs">o</text>
<text x="1721.6" y="1206" fill="#e6501e" textLength="13.6" lengthAdjust="spacingAndGlyphs">r</text>
<text x="1736.2" y="1206" fill="#ee961e" textLength="19.2" lengthAdjust="spacingAndGlyphs">u</text>
<text x="1756.2" y="1206" fill="#f6c41e" textLength="13.8" lengthAdjust="spacingAndGlyphs">f</text>
</g>
<text x="1770" y="1206" font-family="Liberation Sans, sans-serif" font-size="14.5" fill="#3a3a30" textLength="18.6" lengthAdjust="spacingAndGlyphs">.de</text>
<circle cx="1773.6" cy="1180.8" r="0.9" fill="#777"/>
<line x1="457.5" y1="131.7" x2="485.6" y2="131.7" stroke="#111" stroke-width="2.2" />
<polyline points="622,90 485.6,90 485.6,177.5 531,177.5" fill="none" stroke="#111" stroke-width="2.2" />
<line x1="651" y1="90" x2="800.5" y2="90" stroke="#111" stroke-width="2.2" />
<polyline points="768,146.2 712,243" fill="none" stroke="#fdfdfd" stroke-width="6" />
<polyline points="841.7,81.7 812.5,69.2 697.8,267.8 725,283" fill="none" stroke="#111" stroke-width="2.2" />
<line x1="560" y1="177.5" x2="620.8" y2="177.5" stroke="#111" stroke-width="2.2" />
<polyline points="620.8,205 620.8,300" fill="none" stroke="#fdfdfd" stroke-width="6" />
<polyline points="665.3,142.2 620.8,142.2 620.8,322.8 659.7,322.8" fill="none" stroke="#111" stroke-width="2.2" />
<circle cx="442.5" cy="131.5" r="14.6" fill="#fff" stroke="#111" stroke-width="2"/>
<text x="442.5" y="140.4" font-size="24" font-weight="bold" text-anchor="middle" textLength="21.6" lengthAdjust="spacingAndGlyphs" fill="#111">10</text>
<circle cx="636.7" cy="90.8" r="14.6" fill="#fff" stroke="#111" stroke-width="2"/>
<text x="636.7" y="99.7" font-size="24" font-weight="bold" text-anchor="middle" textLength="21.6" lengthAdjust="spacingAndGlyphs" fill="#111">11</text>
<circle cx="545.3" cy="177.5" r="14.6" fill="#fff" stroke="#111" stroke-width="2"/>
<text x="545.3" y="186.4" font-size="24" font-weight="bold" text-anchor="middle" textLength="21.6" lengthAdjust="spacingAndGlyphs" fill="#111">12</text>
<line x1="286" y1="420" x2="320" y2="440" stroke="#111" stroke-width="2.2" />
<circle cx="274" cy="413" r="14.6" fill="#fff" stroke="#111" stroke-width="2"/>
<text x="274" y="421.9" font-size="24" font-weight="bold" text-anchor="middle" textLength="10.8" lengthAdjust="spacingAndGlyphs" fill="#111">9</text>
<polyline points="296.7,669.3 176.7,735 1018,1202 1124.5,1128" fill="none" stroke="#111" stroke-width="2.2" />
<line x1="238.3" y1="768.3" x2="346.7" y2="708.3" stroke="#111" stroke-width="2.2" />
<line x1="287.3" y1="795.7" x2="395" y2="733.3" stroke="#111" stroke-width="2.2" />
<line x1="677.2" y1="1010.2" x2="793.9" y2="942.6" stroke="#111" stroke-width="2.2" />
<line x1="572" y1="953" x2="514" y2="979" stroke="#111" stroke-width="2.2" />
<circle cx="245.5" cy="696.5" r="14.6" fill="#fff" stroke="#111" stroke-width="2"/>
<text x="245.5" y="705.4" font-size="24" font-weight="bold" text-anchor="middle" textLength="10.8" lengthAdjust="spacingAndGlyphs" fill="#111">5</text>
<circle cx="306.5" cy="733" r="14.6" fill="#fff" stroke="#111" stroke-width="2"/>
<text x="306.5" y="741.9" font-size="24" font-weight="bold" text-anchor="middle" textLength="10.8" lengthAdjust="spacingAndGlyphs" fill="#111">4</text>
<circle cx="349" cy="760" r="14.6" fill="#fff" stroke="#111" stroke-width="2"/>
<text x="349" y="768.9" font-size="24" font-weight="bold" text-anchor="middle" textLength="10.8" lengthAdjust="spacingAndGlyphs" fill="#111">3</text>
<circle cx="514" cy="979" r="14.6" fill="#fff" stroke="#111" stroke-width="2"/>
<text x="514" y="987.9" font-size="24" font-weight="bold" text-anchor="middle" textLength="10.8" lengthAdjust="spacingAndGlyphs" fill="#111">1</text>
<circle cx="1067.5" cy="1163" r="14.6" fill="#fff" stroke="#111" stroke-width="2"/>
<text x="1067.5" y="1171.9" font-size="24" font-weight="bold" text-anchor="middle" textLength="10.8" lengthAdjust="spacingAndGlyphs" fill="#111">2</text>
<line x1="684" y1="812" x2="719" y2="794" stroke="#111" stroke-width="2.2" />
<circle cx="719" cy="794" r="14.6" fill="#fff" stroke="#111" stroke-width="2"/>
<text x="719" y="802.9" font-size="24" font-weight="bold" text-anchor="middle" textLength="10.8" lengthAdjust="spacingAndGlyphs" fill="#111">8</text>
<line x1="970" y1="992" x2="1006" y2="971" stroke="#111" stroke-width="2.2" />
<circle cx="1006" cy="971" r="14.6" fill="#fff" stroke="#111" stroke-width="2"/>
<text x="1006" y="979.9" font-size="24" font-weight="bold" text-anchor="middle" textLength="10.8" lengthAdjust="spacingAndGlyphs" fill="#111">7</text>
<line x1="1073" y1="1034" x2="1110" y2="1014" stroke="#111" stroke-width="2.2" />
<circle cx="1110" cy="1014" r="14.6" fill="#fff" stroke="#111" stroke-width="2"/>
<text x="1110" y="1022.9" font-size="24" font-weight="bold" text-anchor="middle" textLength="10.8" lengthAdjust="spacingAndGlyphs" fill="#111">6</text>
<line x1="1273" y1="1141" x2="1310" y2="1121" stroke="#111" stroke-width="2.2" />
<circle cx="1310" cy="1121" r="14.6" fill="#fff" stroke="#111" stroke-width="2"/>
<text x="1310" y="1129.9" font-size="24" font-weight="bold" text-anchor="middle" textLength="21.6" lengthAdjust="spacingAndGlyphs" fill="#111">18</text>
<line x1="1258.5" y1="170" x2="1258.5" y2="193" stroke="#111" stroke-width="2.2" />
<circle cx="1258.5" cy="155.5" r="14.6" fill="#fff" stroke="#111" stroke-width="2"/>
<text x="1258.5" y="164.4" font-size="24" font-weight="bold" text-anchor="middle" textLength="21.6" lengthAdjust="spacingAndGlyphs" fill="#111">13</text>
<rect x="1204" y="193.5" width="114.5" height="313.5" fill="none" stroke="#111" stroke-width="2"/>
<line x1="1450.6" y1="170" x2="1450.6" y2="217.5" stroke="#111" stroke-width="2.2" />
<circle cx="1450.6" cy="156" r="14.6" fill="#fff" stroke="#111" stroke-width="2"/>
<text x="1450.6" y="164.9" font-size="24" font-weight="bold" text-anchor="middle" textLength="21.6" lengthAdjust="spacingAndGlyphs" fill="#111">14</text>
<line x1="1576.7" y1="389" x2="1576.7" y2="425" stroke="#111" stroke-width="2.2" />
<circle cx="1576.7" cy="374.5" r="14.6" fill="#fff" stroke="#111" stroke-width="2"/>
<text x="1576.7" y="383.4" font-size="24" font-weight="bold" text-anchor="middle" textLength="21.6" lengthAdjust="spacingAndGlyphs" fill="#111">15</text>
<line x1="1443.3" y1="650" x2="1443.3" y2="672.5" stroke="#111" stroke-width="2.2" />
<circle cx="1443.3" cy="634.5" r="15.5" fill="#fff" stroke="#111" stroke-width="2"/>
<text x="1443.3" y="643.4" font-size="24" font-weight="bold" text-anchor="middle" textLength="21.6" lengthAdjust="spacingAndGlyphs" fill="#111">16</text>
<rect x="1163.3" y="672.7" width="566.7" height="190.6" fill="none" stroke="#111" stroke-width="1.6"/>
<line x1="1532.7" y1="946" x2="1532.7" y2="979" stroke="#111" stroke-width="2.2" />
<circle cx="1532.7" cy="931" r="14.6" fill="#fff" stroke="#111" stroke-width="2"/>
<text x="1532.7" y="939.9" font-size="24" font-weight="bold" text-anchor="middle" textLength="21.6" lengthAdjust="spacingAndGlyphs" fill="#111">17</text>
<rect x="68.5" y="575" width="27" height="26" rx="2.8" fill="#fff" stroke="#333" stroke-width="1.9"/>
<text x="72.5" y="586.3" font-size="9" font-weight="bold" fill="#4a4a4a" text-anchor="start"  textLength="11" lengthAdjust="spacingAndGlyphs">TL-</text>
<text x="72.1" y="596.6" font-size="9" font-weight="bold" fill="#4a4a4a" text-anchor="start"  textLength="19.5" lengthAdjust="spacingAndGlyphs">HS37</text>
<text x="99" y="596.5" font-size="22" font-weight="normal" fill="#111" text-anchor="start" >/</text>
<rect x="109.5" y="575" width="27" height="26" rx="2.8" fill="#fff" stroke="#333" stroke-width="1.9"/>
<g transform="translate(109.5 575)">
<rect x="7" y="5" width="18.3" height="3.7" rx="1" fill="#111"/>
<circle cx="6.6" cy="7.4" r="4.5" fill="#111"/>
<polygon points="6.9,5.6 6.9,9.0 0.5,11.2 0.5,7.6" fill="#fff"/>
</g>
<text x="123.4" y="598.6" font-size="13" font-weight="bold" fill="#111" text-anchor="middle"  textLength="15.5" lengthAdjust="spacingAndGlyphs">17</text>
<text x="142" y="597" font-size="21.6" font-weight="bold" fill="#111" text-anchor="start"  textLength="81.5" lengthAdjust="spacingAndGlyphs">3 - 5 N·m</text>
<polyline points="66,609 224,609 270,635.5" fill="none" stroke="#111" stroke-width="2.1" stroke-dasharray="6.5 5.2" stroke-dashoffset="2.3"/>
<polygon points="730.5,653.4 742.3,660.2 742.3,673.8 730.5,680.6 718.7,673.8 718.7,660.2" fill="#111"/>
<text x="730.5" y="672.6" font-size="16" font-weight="bold" fill="#fff" text-anchor="middle"  textLength="15.5" lengthAdjust="spacingAndGlyphs">19</text>
<text x="750.5" y="675.6" font-size="20" font-weight="bold" fill="#111" text-anchor="start"  textLength="126" lengthAdjust="spacingAndGlyphs">180 - 200 N·m</text>
<polyline points="876.4,690.6 715.3,690.6 673.6,807" fill="none" stroke="#111" stroke-width="2" stroke-dasharray="6.8 5.6"/>
<polygon points="135.8,1145.6 147.6,1152.4 147.6,1166 135.8,1172.8 124,1166 124,1152.4" fill="#111"/>
<text x="135.8" y="1164.8" font-size="16" font-weight="bold" fill="#fff" text-anchor="middle"  textLength="15.5" lengthAdjust="spacingAndGlyphs">19</text>
<text x="163.3" y="1166" font-size="21" font-weight="bold" fill="#111" text-anchor="start"  textLength="222.5" lengthAdjust="spacingAndGlyphs">19 mm hexagon wrench</text>
<rect x="81.7" y="1184" width="27" height="26" rx="2.8" fill="#fff" stroke="#333" stroke-width="1.9"/>
<text x="85.7" y="1195.3" font-size="9" font-weight="bold" fill="#4a4a4a" text-anchor="start"  textLength="11" lengthAdjust="spacingAndGlyphs">TL-</text>
<text x="85.3" y="1205.6" font-size="9" font-weight="bold" fill="#4a4a4a" text-anchor="start"  textLength="19.5" lengthAdjust="spacingAndGlyphs">HS37</text>
<text x="112" y="1205.5" font-size="22" font-weight="normal" fill="#111" text-anchor="start" >/</text>
<rect x="122.5" y="1184" width="27" height="26" rx="2.8" fill="#fff" stroke="#333" stroke-width="1.9"/>
<g transform="translate(122.5 1184)">
<rect x="7" y="5" width="18.3" height="3.7" rx="1" fill="#111"/>
<circle cx="6.6" cy="7.4" r="4.5" fill="#111"/>
<polygon points="6.9,5.6 6.9,9.0 0.5,11.2 0.5,7.6" fill="#fff"/>
</g>
<text x="136.4" y="1207.6" font-size="13" font-weight="bold" fill="#111" text-anchor="middle"  textLength="15.5" lengthAdjust="spacingAndGlyphs">17</text>
<text x="163.3" y="1204" font-size="21" font-weight="bold" fill="#111" text-anchor="start"  textLength="282.5" lengthAdjust="spacingAndGlyphs">TL-HS37 / 17 mm hub spanner</text>
</g>
</svg>
</body></html>
